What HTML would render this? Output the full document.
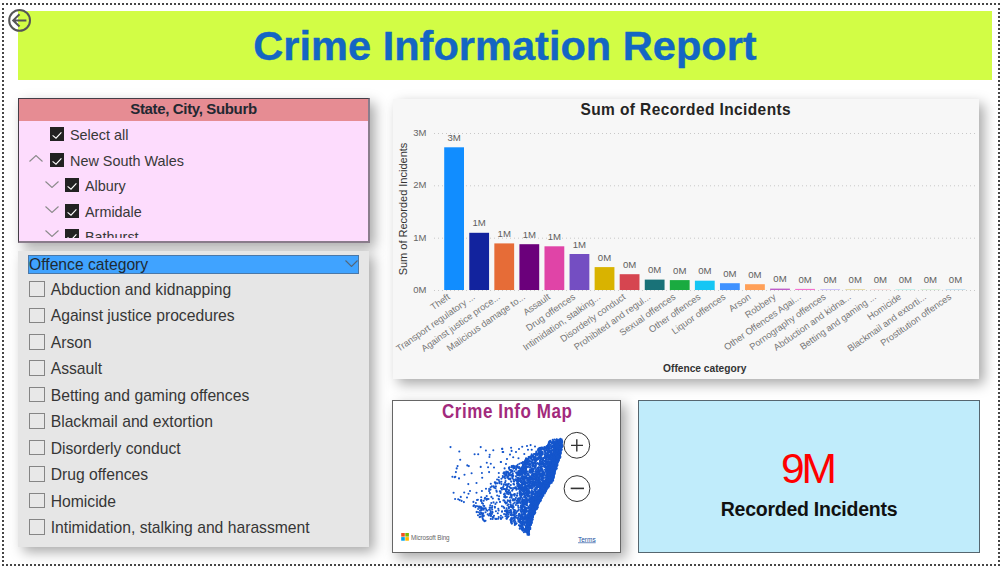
<!DOCTYPE html><html><head><meta charset="utf-8"><title>Crime Information Report</title><style>
*{box-sizing:border-box;margin:0;padding:0}
html,body{width:1003px;height:568px;overflow:hidden;background:#fff;font-family:"Liberation Sans",sans-serif}
.a{position:absolute}
.ov{position:absolute;left:0;top:0}
.dt{position:absolute;left:2px;width:998px;height:2px;background:repeating-linear-gradient(to right,#464646 0 2px,transparent 2px 4px)}
.dv{position:absolute;top:8px;width:2px;height:554px;background:repeating-linear-gradient(to bottom,#464646 0 2px,transparent 2px 4px)}
#banner{left:18px;top:11px;width:974px;height:69px;background:#d2fd45}
#title{left:0;top:0;width:974px;text-align:center;font-weight:bold;font-size:40px;letter-spacing:0;transform:scaleX(1.039);color:#1466c3;line-height:1;position:absolute;top:14.7px;-webkit-text-stroke:0.4px #1466c3}
#s1{left:18px;top:98px;width:352px;height:145px;background:#fddcfd;border:1px solid #433d46;border-right:2px solid #8a7d8c;border-bottom:2px solid #8a7d8c;box-shadow:5px 5px 12px rgba(0,0,0,.34)}
#s1h{left:0;top:0;width:349px;height:22px;background:#e68c93;text-align:center;font-weight:bold;font-size:15px;letter-spacing:-0.35px;color:#222831;line-height:20px}
.cb{position:absolute;width:14px;height:14px;background:#222;}
.cb svg{position:absolute;left:0;top:0}
.it{position:absolute;font-size:14.4px;color:#383838;line-height:1;white-space:nowrap}
#s2{left:18px;top:251px;width:351px;height:296px;background:#e6e6e6;box-shadow:5px 5px 12px rgba(0,0,0,.34)}
#s2h{left:10px;top:4px;width:331px;height:19px;background:#40a3ff;border:1px solid #4a78a8;font-size:15.7px;color:#1e2a33;line-height:17px;padding-left:0}
.ub{position:absolute;width:16px;height:15.5px;border:1.5px solid #858585;background:#e8e8e8}
.it2{position:absolute;font-size:15.7px;color:#363636;line-height:1;white-space:nowrap}
#bc{left:393px;top:99px;width:586px;height:280px;background:#f7f7f7;box-shadow:5px 5px 12px rgba(0,0,0,.34)}
#mp{left:392px;top:400px;width:229px;height:153px;background:#fff;border:1px solid #666;box-shadow:5px 5px 12px rgba(0,0,0,.34)}
#kp{left:638px;top:400px;width:342px;height:153px;background:#c0ecfb;border:1px solid #56666f}
.tk{font-size:9.5px;fill:#666}
.dl{font-size:9.6px;fill:#606060}
.xl{font-size:9.3px;fill:#757575}
.yt{font-size:11px;fill:#333}
.xt{font-size:10.2px;font-weight:bold;fill:#333}
.mt{font-size:17px;font-weight:bold;fill:#a22a7c;letter-spacing:0.55px}
.ct{font-size:15.5px;font-weight:bold;fill:#252423;letter-spacing:0.4px}
</style></head><body>
<div class="dt" style="top:3px"></div><div class="dt" style="top:564px"></div>
<div class="dv" style="left:2px"></div><div class="dv" style="left:998px"></div>
<div id="banner" class="a"><div id="title">Crime Information Report</div></div>
<svg class="a" style="left:6px;top:7px" width="28" height="28" viewBox="0 0 28 28"><circle cx="13.6" cy="13.4" r="10.4" fill="none" stroke="#555" stroke-width="2"/><path d="M20.4 13.4 H7.2 M13.5 7.3 L7.2 13.4 L13.5 19.5" fill="none" stroke="#555" stroke-width="2"/></svg>
<div id="s1" class="a"><div id="s1h" class="a">State, City, Suburb</div></div>
<div class="cb" style="left:50px;top:127px"><svg width="14" height="14" viewBox="0 0 14 14"><path d="M2.6 8.4 L6 11.2 L11.4 5.4" fill="none" stroke="#fff" stroke-width="1.15"/></svg></div>
<div class="it" style="left:70px;top:127.6px">Select all</div>
<svg class="a" style="left:29px;top:155px" width="14" height="7"><path d="M0.5 6.5 L7.0 0.5 L13.5 6.5" fill="none" stroke="#8a8a8a" stroke-width="1.1"/></svg>
<div class="cb" style="left:50px;top:153px"><svg width="14" height="14" viewBox="0 0 14 14"><path d="M2.6 8.4 L6 11.2 L11.4 5.4" fill="none" stroke="#fff" stroke-width="1.15"/></svg></div>
<div class="it" style="left:70px;top:153.6px">New South Wales</div>
<svg class="a" style="left:44.5px;top:180.5px" width="14" height="7"><path d="M0.5 0.5 L7.0 6.5 L13.5 0.5" fill="none" stroke="#8a8a8a" stroke-width="1.1"/></svg>
<div class="cb" style="left:65px;top:178px"><svg width="14" height="14" viewBox="0 0 14 14"><path d="M2.6 8.4 L6 11.2 L11.4 5.4" fill="none" stroke="#fff" stroke-width="1.15"/></svg></div>
<div class="it" style="left:85px;top:178.6px">Albury</div>
<svg class="a" style="left:44.5px;top:206px" width="14" height="7"><path d="M0.5 0.5 L7.0 6.5 L13.5 0.5" fill="none" stroke="#8a8a8a" stroke-width="1.1"/></svg>
<div class="cb" style="left:65px;top:204px"><svg width="14" height="14" viewBox="0 0 14 14"><path d="M2.6 8.4 L6 11.2 L11.4 5.4" fill="none" stroke="#fff" stroke-width="1.15"/></svg></div>
<div class="it" style="left:85px;top:204.6px">Armidale</div>
<div class="a" style="left:19px;top:229px;width:350px;height:8.5px;overflow:hidden"><svg class="a" style="left:25.5px;top:0.5px" width="14" height="7"><path d="M0.5 0.5 L7.0 6.5 L13.5 0.5" fill="none" stroke="#8a8a8a" stroke-width="1.1"/></svg><div class="cb" style="left:46px;top:0px"><svg width="14" height="14" viewBox="0 0 14 14"><path d="M2.6 8.4 L6 11.2 L11.4 5.4" fill="none" stroke="#fff" stroke-width="1.15"/></svg></div><div class="it" style="left:66px;top:0.6px">Bathurst</div></div>
<div id="s2" class="a"><div id="s2h" class="a">Offence category</div></div>
<svg class="a" style="left:345px;top:260px" width="13" height="7"><path d="M0.5 0.5 L6.5 6.5 L12.5 0.5" fill="none" stroke="#556677" stroke-width="1.1"/></svg>
<div class="ub" style="left:28.5px;top:281.10px"></div><div class="it2" style="left:50.7px;top:282.00px">Abduction and kidnapping</div>
<div class="ub" style="left:28.5px;top:307.55px"></div><div class="it2" style="left:50.7px;top:308.45px">Against justice procedures</div>
<div class="ub" style="left:28.5px;top:334.00px"></div><div class="it2" style="left:50.7px;top:334.90px">Arson</div>
<div class="ub" style="left:28.5px;top:360.45px"></div><div class="it2" style="left:50.7px;top:361.35px">Assault</div>
<div class="ub" style="left:28.5px;top:386.90px"></div><div class="it2" style="left:50.7px;top:387.80px">Betting and gaming offences</div>
<div class="ub" style="left:28.5px;top:413.35px"></div><div class="it2" style="left:50.7px;top:414.25px">Blackmail and extortion</div>
<div class="ub" style="left:28.5px;top:439.80px"></div><div class="it2" style="left:50.7px;top:440.70px">Disorderly conduct</div>
<div class="ub" style="left:28.5px;top:466.25px"></div><div class="it2" style="left:50.7px;top:467.15px">Drug offences</div>
<div class="ub" style="left:28.5px;top:492.70px"></div><div class="it2" style="left:50.7px;top:493.60px">Homicide</div>
<div class="ub" style="left:28.5px;top:519.15px"></div><div class="it2" style="left:50.7px;top:520.05px">Intimidation, stalking and harassment</div>
<div id="bc" class="a"></div>
<svg class="ov" width="1003" height="568" viewBox="0 0 1003 568">
<line x1="434" y1="133.5" x2="976" y2="133.5" stroke="#c8c8c8" stroke-width="1" stroke-dasharray="1 3"/>
<text x="426.5" y="135.8" text-anchor="end" class="tk">3M</text>
<line x1="434" y1="185.8" x2="976" y2="185.8" stroke="#c8c8c8" stroke-width="1" stroke-dasharray="1 3"/>
<text x="426.5" y="188.1" text-anchor="end" class="tk">2M</text>
<line x1="434" y1="238.2" x2="976" y2="238.2" stroke="#c8c8c8" stroke-width="1" stroke-dasharray="1 3"/>
<text x="426.5" y="240.5" text-anchor="end" class="tk">1M</text>
<line x1="434" y1="290.5" x2="976" y2="290.5" stroke="#c8c8c8" stroke-width="1" stroke-dasharray="1 3"/>
<text x="426.5" y="292.8" text-anchor="end" class="tk">0M</text>
<rect x="444.20" y="147.30" width="19.8" height="142.70" fill="#118DFF"/>
<text x="454.10" y="140.90" text-anchor="middle" class="dl">3M</text>
<rect x="469.27" y="232.80" width="19.8" height="57.20" fill="#12239E"/>
<text x="479.17" y="226.40" text-anchor="middle" class="dl">1M</text>
<rect x="494.34" y="243.40" width="19.8" height="46.60" fill="#E66C37"/>
<text x="504.24" y="237.00" text-anchor="middle" class="dl">1M</text>
<rect x="519.41" y="244.20" width="19.8" height="45.80" fill="#6B007B"/>
<text x="529.31" y="237.80" text-anchor="middle" class="dl">1M</text>
<rect x="544.48" y="246.30" width="19.8" height="43.70" fill="#E044A7"/>
<text x="554.38" y="239.90" text-anchor="middle" class="dl">1M</text>
<rect x="569.55" y="254.00" width="19.8" height="36.00" fill="#744EC2"/>
<text x="579.45" y="247.60" text-anchor="middle" class="dl">1M</text>
<rect x="594.62" y="267.10" width="19.8" height="22.90" fill="#D9B300"/>
<text x="604.52" y="260.70" text-anchor="middle" class="dl">0M</text>
<rect x="619.69" y="274.20" width="19.8" height="15.80" fill="#D64550"/>
<text x="629.59" y="267.80" text-anchor="middle" class="dl">0M</text>
<rect x="644.76" y="279.60" width="19.8" height="10.40" fill="#197278"/>
<text x="654.66" y="273.20" text-anchor="middle" class="dl">0M</text>
<rect x="669.83" y="280.10" width="19.8" height="9.90" fill="#1AAB40"/>
<text x="679.73" y="273.70" text-anchor="middle" class="dl">0M</text>
<rect x="694.90" y="280.70" width="19.8" height="9.30" fill="#15C6F4"/>
<text x="704.80" y="274.30" text-anchor="middle" class="dl">0M</text>
<rect x="719.97" y="283.20" width="19.8" height="6.80" fill="#4092FF"/>
<text x="729.87" y="276.80" text-anchor="middle" class="dl">0M</text>
<rect x="745.04" y="284.20" width="19.8" height="5.80" fill="#FFA058"/>
<text x="754.94" y="277.80" text-anchor="middle" class="dl">0M</text>
<rect x="770.11" y="288.60" width="19.8" height="1.40" fill="#BE5DC9"/>
<text x="780.01" y="282.20" text-anchor="middle" class="dl">0M</text>
<rect x="795.18" y="288.90" width="19.8" height="1.10" fill="#F472D0"/>
<text x="805.08" y="282.50" text-anchor="middle" class="dl">0M</text>
<rect x="820.25" y="289.40" width="19.8" height="0.60" fill="#B5A1FF"/>
<text x="830.15" y="283.00" text-anchor="middle" class="dl">0M</text>
<rect x="845.32" y="289.70" width="19.8" height="0.30" fill="#C4A200"/>
<text x="855.22" y="283.30" text-anchor="middle" class="dl">0M</text>
<rect x="870.39" y="289.80" width="19.8" height="0.20" fill="#FF8080"/>
<text x="880.29" y="283.40" text-anchor="middle" class="dl">0M</text>
<rect x="895.46" y="289.80" width="19.8" height="0.20" fill="#00DBBC"/>
<text x="905.36" y="283.40" text-anchor="middle" class="dl">0M</text>
<rect x="920.53" y="289.80" width="19.8" height="0.20" fill="#5BD667"/>
<text x="930.43" y="283.40" text-anchor="middle" class="dl">0M</text>
<rect x="945.60" y="289.80" width="19.8" height="0.20" fill="#0091D5"/>
<text x="955.50" y="283.40" text-anchor="middle" class="dl">0M</text>
<text transform="translate(450.60,298.30) rotate(-35)" text-anchor="end" class="xl">Theft</text>
<text transform="translate(475.67,298.30) rotate(-35)" text-anchor="end" class="xl">Transport regulatory ...</text>
<text transform="translate(500.74,298.30) rotate(-35)" text-anchor="end" class="xl">Against justice proce...</text>
<text transform="translate(525.81,298.30) rotate(-35)" text-anchor="end" class="xl">Malicious damage to...</text>
<text transform="translate(550.88,298.30) rotate(-35)" text-anchor="end" class="xl">Assault</text>
<text transform="translate(575.95,298.30) rotate(-35)" text-anchor="end" class="xl">Drug offences</text>
<text transform="translate(601.02,298.30) rotate(-35)" text-anchor="end" class="xl">Intimidation, stalking...</text>
<text transform="translate(626.09,298.30) rotate(-35)" text-anchor="end" class="xl">Disorderly conduct</text>
<text transform="translate(651.16,298.30) rotate(-35)" text-anchor="end" class="xl">Prohibited and regul...</text>
<text transform="translate(676.23,298.30) rotate(-35)" text-anchor="end" class="xl">Sexual offences</text>
<text transform="translate(701.30,298.30) rotate(-35)" text-anchor="end" class="xl">Other offences</text>
<text transform="translate(726.37,298.30) rotate(-35)" text-anchor="end" class="xl">Liquor offences</text>
<text transform="translate(751.44,298.30) rotate(-35)" text-anchor="end" class="xl">Arson</text>
<text transform="translate(776.51,298.30) rotate(-35)" text-anchor="end" class="xl">Robbery</text>
<text transform="translate(801.58,298.30) rotate(-35)" text-anchor="end" class="xl">Other Offences Agai...</text>
<text transform="translate(826.65,298.30) rotate(-35)" text-anchor="end" class="xl">Pornography offences</text>
<text transform="translate(851.72,298.30) rotate(-35)" text-anchor="end" class="xl">Abduction and kidna...</text>
<text transform="translate(876.79,298.30) rotate(-35)" text-anchor="end" class="xl">Betting and gaming ...</text>
<text transform="translate(901.86,298.30) rotate(-35)" text-anchor="end" class="xl">Homicide</text>
<text transform="translate(926.93,298.30) rotate(-35)" text-anchor="end" class="xl">Blackmail and extorti...</text>
<text transform="translate(952.00,298.30) rotate(-35)" text-anchor="end" class="xl">Prostitution offences</text>
<text transform="translate(407,209) rotate(-90)" text-anchor="middle" class="yt">Sum of Recorded Incidents</text>
<text x="704.7" y="371.7" text-anchor="middle" class="xt">Offence category</text>
<text transform="translate(685.8,115.2) scale(1,1.115)" text-anchor="middle" class="ct">Sum of Recorded Incidents</text>
</svg>
<div id="mp" class="a"></div>
<svg class="ov" width="1003" height="568" viewBox="0 0 1003 568"><g fill="#1556cc"><polygon points="562.3,438.2 562.8,445.0 561.2,455.1 557.5,465.7 553.7,480.0 546.3,490.6 541.0,501.1 535.7,511.7 532.6,520.1 530.5,527.5 529.4,534.9 528.4,535.4 525.0,531.0 525.5,521.0 528.5,511.0 533.5,500.0 538.5,490.0 545.0,479.0 549.0,466.0 552.0,455.0 553.5,446.0 553.0,441.0"/><circle cx="450.5" cy="447.1" r="1.05"/><circle cx="459.3" cy="451.5" r="1.05"/><circle cx="480.7" cy="447.1" r="1.05"/><circle cx="485.9" cy="450.5" r="1.05"/><circle cx="493.3" cy="450.3" r="1.05"/><circle cx="502.3" cy="448.9" r="1.05"/><circle cx="503.2" cy="452.0" r="1.05"/><circle cx="474.6" cy="454.3" r="1.05"/><circle cx="478.2" cy="454.3" r="1.05"/><circle cx="489.7" cy="454.7" r="1.05"/><circle cx="489.4" cy="457.0" r="1.05"/><circle cx="460.2" cy="459.7" r="1.05"/><circle cx="486.8" cy="462.7" r="1.05"/><circle cx="490.8" cy="463.8" r="1.05"/><circle cx="500.9" cy="462.0" r="1.05"/><circle cx="457.6" cy="466.1" r="1.05"/><circle cx="456.7" cy="468.4" r="1.05"/><circle cx="467.3" cy="465.4" r="1.05"/><circle cx="468.8" cy="466.1" r="1.05"/><circle cx="480.7" cy="466.9" r="1.05"/><circle cx="488.1" cy="467.3" r="1.05"/><circle cx="494.0" cy="467.5" r="1.05"/><circle cx="504.6" cy="468.4" r="1.05"/><circle cx="455.9" cy="472.1" r="1.05"/><circle cx="489.1" cy="472.1" r="1.05"/><circle cx="481.9" cy="473.0" r="1.05"/><circle cx="471.6" cy="473.2" r="1.05"/><circle cx="464.5" cy="474.7" r="1.05"/><circle cx="498.8" cy="473.0" r="1.05"/><circle cx="503.4" cy="473.2" r="1.05"/><circle cx="452.4" cy="476.7" r="1.05"/><circle cx="455.3" cy="476.7" r="1.05"/><circle cx="454.7" cy="477.2" r="1.05"/><circle cx="459.0" cy="478.4" r="1.05"/><circle cx="482.2" cy="477.8" r="1.05"/><circle cx="498.8" cy="477.2" r="1.05"/><circle cx="501.4" cy="478.7" r="1.05"/><circle cx="502.8" cy="476.1" r="1.05"/><circle cx="497.1" cy="479.5" r="1.05"/><circle cx="494.8" cy="482.2" r="1.05"/><circle cx="497.5" cy="483.3" r="1.05"/><circle cx="490.8" cy="483.8" r="1.05"/><circle cx="476.5" cy="483.0" r="1.05"/><circle cx="468.3" cy="484.1" r="1.05"/><circle cx="493.7" cy="486.4" r="1.05"/><circle cx="486.0" cy="488.7" r="1.05"/><circle cx="489.1" cy="489.0" r="1.05"/><circle cx="481.9" cy="491.0" r="1.05"/><circle cx="453.6" cy="492.7" r="1.05"/><circle cx="464.2" cy="492.5" r="1.05"/><circle cx="470.0" cy="491.0" r="1.05"/><circle cx="468.5" cy="493.8" r="1.05"/><circle cx="476.5" cy="492.7" r="1.05"/><circle cx="467.0" cy="497.5" r="1.05"/><circle cx="460.8" cy="496.9" r="1.05"/><circle cx="455.1" cy="499.0" r="1.05"/><circle cx="458.2" cy="499.3" r="1.05"/><circle cx="459.7" cy="500.1" r="1.05"/><circle cx="461.6" cy="500.9" r="1.05"/><circle cx="463.9" cy="502.1" r="1.05"/><circle cx="473.4" cy="501.9" r="1.05"/><circle cx="475.9" cy="503.0" r="1.05"/><circle cx="481.4" cy="501.3" r="1.05"/><circle cx="483.7" cy="500.7" r="1.05"/><circle cx="488.5" cy="499.0" r="1.05"/><circle cx="491.4" cy="496.9" r="1.05"/><circle cx="502.1" cy="448.8" r="1.05"/><circle cx="502.6" cy="452.0" r="1.05"/><circle cx="511.1" cy="447.7" r="1.05"/><circle cx="511.6" cy="450.9" r="1.05"/><circle cx="510.0" cy="454.6" r="1.05"/><circle cx="513.2" cy="457.2" r="1.05"/><circle cx="522.2" cy="446.7" r="1.05"/><circle cx="530.6" cy="445.1" r="1.05"/><circle cx="528.0" cy="449.8" r="1.05"/><circle cx="531.7" cy="449.8" r="1.05"/><circle cx="518.5" cy="458.3" r="1.05"/><circle cx="524.3" cy="454.0" r="1.05"/><circle cx="500.8" cy="462.0" r="1.05"/><circle cx="516.0" cy="452.0" r="1.05"/><circle cx="519.0" cy="449.0" r="1.05"/><circle cx="507.0" cy="459.0" r="1.05"/><circle cx="506.0" cy="464.0" r="1.05"/><circle cx="527.0" cy="446.0" r="1.05"/><circle cx="535.0" cy="446.5" r="1.05"/><circle cx="514.5" cy="514.4" r="1.05"/><circle cx="552.8" cy="454.1" r="1.05"/><circle cx="524.5" cy="504.2" r="1.05"/><circle cx="526.1" cy="458.6" r="1.05"/><circle cx="529.3" cy="518.6" r="1.05"/><circle cx="552.0" cy="447.6" r="1.05"/><circle cx="494.8" cy="506.8" r="1.05"/><circle cx="557.2" cy="461.7" r="1.05"/><circle cx="522.8" cy="494.2" r="1.05"/><circle cx="524.5" cy="522.2" r="1.05"/><circle cx="522.4" cy="479.0" r="1.05"/><circle cx="529.0" cy="530.8" r="1.05"/><circle cx="550.1" cy="476.4" r="1.05"/><circle cx="532.8" cy="492.4" r="1.05"/><circle cx="493.4" cy="517.5" r="1.05"/><circle cx="508.9" cy="474.9" r="1.05"/><circle cx="477.9" cy="499.8" r="1.05"/><circle cx="526.8" cy="462.0" r="1.05"/><circle cx="540.3" cy="468.2" r="1.05"/><circle cx="542.9" cy="482.2" r="1.05"/><circle cx="512.8" cy="473.2" r="1.05"/><circle cx="534.9" cy="479.2" r="1.05"/><circle cx="557.2" cy="460.9" r="1.05"/><circle cx="540.9" cy="475.3" r="1.05"/><circle cx="522.7" cy="462.2" r="1.05"/><circle cx="520.6" cy="515.6" r="1.05"/><circle cx="519.8" cy="471.3" r="1.05"/><circle cx="526.6" cy="501.8" r="1.05"/><circle cx="530.7" cy="504.8" r="1.05"/><circle cx="528.6" cy="514.7" r="1.05"/><circle cx="534.8" cy="509.5" r="1.05"/><circle cx="540.7" cy="458.1" r="1.05"/><circle cx="548.0" cy="466.7" r="1.05"/><circle cx="484.8" cy="508.3" r="1.05"/><circle cx="532.7" cy="519.5" r="1.05"/><circle cx="543.5" cy="491.5" r="1.05"/><circle cx="500.9" cy="515.8" r="1.05"/><circle cx="542.2" cy="461.9" r="1.05"/><circle cx="513.1" cy="514.3" r="1.05"/><circle cx="491.9" cy="486.4" r="1.05"/><circle cx="540.7" cy="456.5" r="1.05"/><circle cx="536.3" cy="460.2" r="1.05"/><circle cx="537.1" cy="492.6" r="1.05"/><circle cx="524.5" cy="511.3" r="1.05"/><circle cx="518.4" cy="475.1" r="1.05"/><circle cx="530.5" cy="483.3" r="1.05"/><circle cx="518.8" cy="520.4" r="1.05"/><circle cx="542.8" cy="475.2" r="1.05"/><circle cx="525.9" cy="460.2" r="1.05"/><circle cx="520.0" cy="471.0" r="1.05"/><circle cx="533.5" cy="457.5" r="1.05"/><circle cx="482.5" cy="517.0" r="1.05"/><circle cx="539.5" cy="478.5" r="1.05"/><circle cx="514.8" cy="525.0" r="1.05"/><circle cx="548.4" cy="470.0" r="1.05"/><circle cx="514.2" cy="520.4" r="1.05"/><circle cx="517.9" cy="499.5" r="1.05"/><circle cx="540.0" cy="455.5" r="1.05"/><circle cx="507.1" cy="493.8" r="1.05"/><circle cx="540.1" cy="488.0" r="1.05"/><circle cx="524.2" cy="489.4" r="1.05"/><circle cx="491.0" cy="507.8" r="1.05"/><circle cx="537.6" cy="482.6" r="1.05"/><circle cx="521.2" cy="489.1" r="1.05"/><circle cx="548.4" cy="487.6" r="1.05"/><circle cx="548.1" cy="479.2" r="1.05"/><circle cx="541.3" cy="480.1" r="1.05"/><circle cx="551.2" cy="446.5" r="1.05"/><circle cx="528.7" cy="523.5" r="1.05"/><circle cx="499.1" cy="496.2" r="1.05"/><circle cx="527.5" cy="480.6" r="1.05"/><circle cx="518.3" cy="479.0" r="1.05"/><circle cx="540.9" cy="470.1" r="1.05"/><circle cx="521.8" cy="516.9" r="1.05"/><circle cx="520.2" cy="493.4" r="1.05"/><circle cx="522.5" cy="484.1" r="1.05"/><circle cx="553.6" cy="474.1" r="1.05"/><circle cx="531.9" cy="512.6" r="1.05"/><circle cx="492.2" cy="511.8" r="1.05"/><circle cx="537.3" cy="475.7" r="1.05"/><circle cx="510.6" cy="470.6" r="1.05"/><circle cx="525.8" cy="468.3" r="1.05"/><circle cx="517.5" cy="493.4" r="1.05"/><circle cx="530.5" cy="483.3" r="1.05"/><circle cx="535.0" cy="507.1" r="1.05"/><circle cx="506.8" cy="472.3" r="1.05"/><circle cx="535.6" cy="465.9" r="1.05"/><circle cx="493.2" cy="516.9" r="1.05"/><circle cx="523.3" cy="501.4" r="1.05"/><circle cx="527.0" cy="511.3" r="1.05"/><circle cx="524.7" cy="480.3" r="1.05"/><circle cx="551.0" cy="450.7" r="1.05"/><circle cx="527.7" cy="528.6" r="1.05"/><circle cx="517.3" cy="475.3" r="1.05"/><circle cx="508.6" cy="516.2" r="1.05"/><circle cx="540.5" cy="501.1" r="1.05"/><circle cx="522.2" cy="524.5" r="1.05"/><circle cx="557.0" cy="450.3" r="1.05"/><circle cx="544.2" cy="463.8" r="1.05"/><circle cx="541.6" cy="474.5" r="1.05"/><circle cx="547.4" cy="468.4" r="1.05"/><circle cx="494.2" cy="487.6" r="1.05"/><circle cx="526.4" cy="503.2" r="1.05"/><circle cx="524.8" cy="471.7" r="1.05"/><circle cx="514.7" cy="502.6" r="1.05"/><circle cx="517.2" cy="486.0" r="1.05"/><circle cx="536.5" cy="458.5" r="1.05"/><circle cx="509.5" cy="474.0" r="1.05"/><circle cx="527.6" cy="519.0" r="1.05"/><circle cx="525.3" cy="510.0" r="1.05"/><circle cx="542.6" cy="453.8" r="1.05"/><circle cx="541.0" cy="473.5" r="1.05"/><circle cx="541.3" cy="466.7" r="1.05"/><circle cx="479.4" cy="506.5" r="1.05"/><circle cx="508.7" cy="478.7" r="1.05"/><circle cx="535.7" cy="508.6" r="1.05"/><circle cx="518.2" cy="498.5" r="1.05"/><circle cx="504.3" cy="473.9" r="1.05"/><circle cx="533.4" cy="464.0" r="1.05"/><circle cx="503.3" cy="506.7" r="1.05"/><circle cx="530.9" cy="499.6" r="1.05"/><circle cx="521.1" cy="527.0" r="1.05"/><circle cx="523.1" cy="518.2" r="1.05"/><circle cx="551.6" cy="461.7" r="1.05"/><circle cx="522.3" cy="523.8" r="1.05"/><circle cx="543.6" cy="481.5" r="1.05"/><circle cx="560.2" cy="445.6" r="1.05"/><circle cx="536.4" cy="500.8" r="1.05"/><circle cx="528.8" cy="482.8" r="1.05"/><circle cx="547.7" cy="451.4" r="1.05"/><circle cx="504.1" cy="514.1" r="1.05"/><circle cx="543.3" cy="482.7" r="1.05"/><circle cx="531.8" cy="478.7" r="1.05"/><circle cx="529.2" cy="479.4" r="1.05"/><circle cx="529.5" cy="491.6" r="1.05"/><circle cx="523.9" cy="510.3" r="1.05"/><circle cx="526.7" cy="525.0" r="1.05"/><circle cx="497.2" cy="495.5" r="1.05"/><circle cx="536.5" cy="484.9" r="1.05"/><circle cx="533.0" cy="477.0" r="1.05"/><circle cx="516.6" cy="523.2" r="1.05"/><circle cx="529.6" cy="487.3" r="1.05"/><circle cx="525.9" cy="526.6" r="1.05"/><circle cx="545.4" cy="462.6" r="1.05"/><circle cx="537.8" cy="458.8" r="1.05"/><circle cx="551.8" cy="465.3" r="1.05"/><circle cx="526.6" cy="510.8" r="1.05"/><circle cx="540.8" cy="500.2" r="1.05"/><circle cx="553.1" cy="459.0" r="1.05"/><circle cx="547.3" cy="461.3" r="1.05"/><circle cx="525.4" cy="496.7" r="1.05"/><circle cx="533.7" cy="510.4" r="1.05"/><circle cx="519.9" cy="521.4" r="1.05"/><circle cx="557.8" cy="443.5" r="1.05"/><circle cx="548.7" cy="473.1" r="1.05"/><circle cx="519.6" cy="487.4" r="1.05"/><circle cx="506.7" cy="474.6" r="1.05"/><circle cx="515.1" cy="479.8" r="1.05"/><circle cx="495.4" cy="504.0" r="1.05"/><circle cx="529.2" cy="460.4" r="1.05"/><circle cx="556.2" cy="463.2" r="1.05"/><circle cx="547.5" cy="480.6" r="1.05"/><circle cx="519.2" cy="521.3" r="1.05"/><circle cx="524.4" cy="472.6" r="1.05"/><circle cx="524.5" cy="514.3" r="1.05"/><circle cx="489.7" cy="513.7" r="1.05"/><circle cx="529.1" cy="513.4" r="1.05"/><circle cx="551.9" cy="461.6" r="1.05"/><circle cx="519.0" cy="478.4" r="1.05"/><circle cx="537.2" cy="487.5" r="1.05"/><circle cx="532.5" cy="496.8" r="1.05"/><circle cx="512.9" cy="499.7" r="1.05"/><circle cx="539.9" cy="485.0" r="1.05"/><circle cx="520.0" cy="485.3" r="1.05"/><circle cx="532.2" cy="472.6" r="1.05"/><circle cx="533.3" cy="508.8" r="1.05"/><circle cx="527.7" cy="521.9" r="1.05"/><circle cx="517.2" cy="495.6" r="1.05"/><circle cx="524.5" cy="481.3" r="1.05"/><circle cx="525.9" cy="471.0" r="1.05"/><circle cx="540.5" cy="449.3" r="1.05"/><circle cx="540.8" cy="492.4" r="1.05"/><circle cx="526.8" cy="517.3" r="1.05"/><circle cx="534.8" cy="508.6" r="1.05"/><circle cx="480.8" cy="516.8" r="1.05"/><circle cx="526.3" cy="508.4" r="1.05"/><circle cx="520.6" cy="489.3" r="1.05"/><circle cx="520.9" cy="468.4" r="1.05"/><circle cx="540.1" cy="489.4" r="1.05"/><circle cx="527.9" cy="474.8" r="1.05"/><circle cx="506.8" cy="511.8" r="1.05"/><circle cx="553.3" cy="441.6" r="1.05"/><circle cx="481.2" cy="500.8" r="1.05"/><circle cx="532.7" cy="478.6" r="1.05"/><circle cx="537.1" cy="506.5" r="1.05"/><circle cx="533.5" cy="462.8" r="1.05"/><circle cx="539.6" cy="448.5" r="1.05"/><circle cx="549.0" cy="445.0" r="1.05"/><circle cx="558.1" cy="455.9" r="1.05"/><circle cx="498.3" cy="518.7" r="1.05"/><circle cx="506.8" cy="518.7" r="1.05"/><circle cx="515.5" cy="523.8" r="1.05"/><circle cx="522.1" cy="518.0" r="1.05"/><circle cx="542.8" cy="474.4" r="1.05"/><circle cx="507.5" cy="505.2" r="1.05"/><circle cx="529.5" cy="510.5" r="1.05"/><circle cx="507.9" cy="501.0" r="1.05"/><circle cx="526.1" cy="487.9" r="1.05"/><circle cx="509.1" cy="510.7" r="1.05"/><circle cx="540.1" cy="490.4" r="1.05"/><circle cx="558.5" cy="453.9" r="1.05"/><circle cx="546.2" cy="447.9" r="1.05"/><circle cx="549.3" cy="471.1" r="1.05"/><circle cx="518.7" cy="484.4" r="1.05"/><circle cx="546.4" cy="471.7" r="1.05"/><circle cx="540.9" cy="476.0" r="1.05"/><circle cx="535.2" cy="457.4" r="1.05"/><circle cx="519.8" cy="528.2" r="1.05"/><circle cx="544.9" cy="465.7" r="1.05"/><circle cx="544.3" cy="466.8" r="1.05"/><circle cx="528.2" cy="485.8" r="1.05"/><circle cx="547.8" cy="474.4" r="1.05"/><circle cx="526.6" cy="475.5" r="1.05"/><circle cx="520.5" cy="523.0" r="1.05"/><circle cx="535.3" cy="463.1" r="1.05"/><circle cx="478.0" cy="515.2" r="1.05"/><circle cx="527.6" cy="527.1" r="1.05"/><circle cx="524.8" cy="477.3" r="1.05"/><circle cx="491.3" cy="503.0" r="1.05"/><circle cx="548.2" cy="470.8" r="1.05"/><circle cx="518.9" cy="525.2" r="1.05"/><circle cx="519.1" cy="498.8" r="1.05"/><circle cx="528.3" cy="493.5" r="1.05"/><circle cx="549.2" cy="457.5" r="1.05"/><circle cx="540.7" cy="451.0" r="1.05"/><circle cx="521.5" cy="506.8" r="1.05"/><circle cx="533.3" cy="464.0" r="1.05"/><circle cx="532.6" cy="498.5" r="1.05"/><circle cx="517.1" cy="483.4" r="1.05"/><circle cx="550.5" cy="472.0" r="1.05"/><circle cx="536.9" cy="489.1" r="1.05"/><circle cx="547.9" cy="484.8" r="1.05"/><circle cx="510.9" cy="488.2" r="1.05"/><circle cx="516.1" cy="468.2" r="1.05"/><circle cx="506.9" cy="484.3" r="1.05"/><circle cx="507.8" cy="500.3" r="1.05"/><circle cx="547.7" cy="479.2" r="1.05"/><circle cx="516.4" cy="489.8" r="1.05"/><circle cx="518.8" cy="509.5" r="1.05"/><circle cx="542.6" cy="472.4" r="1.05"/><circle cx="507.8" cy="517.3" r="1.05"/><circle cx="555.5" cy="463.7" r="1.05"/><circle cx="483.7" cy="509.7" r="1.05"/><circle cx="525.4" cy="467.4" r="1.05"/><circle cx="534.4" cy="499.9" r="1.05"/><circle cx="523.1" cy="469.8" r="1.05"/><circle cx="517.5" cy="482.9" r="1.05"/><circle cx="536.1" cy="495.4" r="1.05"/><circle cx="541.2" cy="449.4" r="1.05"/><circle cx="534.6" cy="513.6" r="1.05"/><circle cx="550.0" cy="467.2" r="1.05"/><circle cx="533.0" cy="508.0" r="1.05"/><circle cx="510.4" cy="506.5" r="1.05"/><circle cx="537.3" cy="506.1" r="1.05"/><circle cx="520.0" cy="498.4" r="1.05"/><circle cx="531.4" cy="507.3" r="1.05"/><circle cx="526.4" cy="526.8" r="1.05"/><circle cx="525.5" cy="483.5" r="1.05"/><circle cx="526.2" cy="531.1" r="1.05"/><circle cx="535.9" cy="508.7" r="1.05"/><circle cx="490.4" cy="514.4" r="1.05"/><circle cx="543.1" cy="449.3" r="1.05"/><circle cx="527.7" cy="490.7" r="1.05"/><circle cx="505.4" cy="475.1" r="1.05"/><circle cx="554.7" cy="473.7" r="1.05"/><circle cx="519.6" cy="491.9" r="1.05"/><circle cx="524.8" cy="494.1" r="1.05"/><circle cx="508.7" cy="507.0" r="1.05"/><circle cx="505.2" cy="478.4" r="1.05"/><circle cx="526.6" cy="504.9" r="1.05"/><circle cx="497.8" cy="513.2" r="1.05"/><circle cx="533.9" cy="457.5" r="1.05"/><circle cx="528.7" cy="512.9" r="1.05"/><circle cx="511.5" cy="494.8" r="1.05"/><circle cx="542.0" cy="497.5" r="1.05"/><circle cx="544.0" cy="489.9" r="1.05"/><circle cx="521.7" cy="514.4" r="1.05"/><circle cx="552.4" cy="450.1" r="1.05"/><circle cx="551.7" cy="481.4" r="1.05"/><circle cx="537.2" cy="459.6" r="1.05"/><circle cx="543.2" cy="482.2" r="1.05"/><circle cx="522.2" cy="517.1" r="1.05"/><circle cx="538.2" cy="484.9" r="1.05"/><circle cx="539.0" cy="453.1" r="1.05"/><circle cx="521.1" cy="521.5" r="1.05"/><circle cx="522.7" cy="506.8" r="1.05"/><circle cx="531.9" cy="469.6" r="1.05"/><circle cx="521.3" cy="508.4" r="1.05"/><circle cx="528.2" cy="496.2" r="1.05"/><circle cx="533.4" cy="485.6" r="1.05"/><circle cx="522.9" cy="487.3" r="1.05"/><circle cx="554.5" cy="470.8" r="1.05"/><circle cx="538.9" cy="500.4" r="1.05"/><circle cx="524.4" cy="518.8" r="1.05"/><circle cx="514.8" cy="494.1" r="1.05"/><circle cx="548.8" cy="443.4" r="1.05"/><circle cx="546.6" cy="450.5" r="1.05"/><circle cx="532.6" cy="483.2" r="1.05"/><circle cx="554.0" cy="451.0" r="1.05"/><circle cx="492.7" cy="517.3" r="1.05"/><circle cx="551.2" cy="455.4" r="1.05"/><circle cx="530.2" cy="461.6" r="1.05"/><circle cx="523.9" cy="479.9" r="1.05"/><circle cx="544.5" cy="472.6" r="1.05"/><circle cx="508.1" cy="476.3" r="1.05"/><circle cx="533.3" cy="512.7" r="1.05"/><circle cx="507.5" cy="485.9" r="1.05"/><circle cx="540.0" cy="482.6" r="1.05"/><circle cx="512.1" cy="490.8" r="1.05"/><circle cx="551.7" cy="450.8" r="1.05"/><circle cx="505.6" cy="481.0" r="1.05"/><circle cx="530.3" cy="482.7" r="1.05"/><circle cx="543.3" cy="458.7" r="1.05"/><circle cx="527.2" cy="480.1" r="1.05"/><circle cx="542.8" cy="477.7" r="1.05"/><circle cx="527.3" cy="515.1" r="1.05"/><circle cx="505.4" cy="510.6" r="1.05"/><circle cx="518.4" cy="483.3" r="1.05"/><circle cx="520.3" cy="480.2" r="1.05"/><circle cx="534.5" cy="501.2" r="1.05"/><circle cx="534.4" cy="459.2" r="1.05"/><circle cx="528.9" cy="534.8" r="1.05"/><circle cx="528.5" cy="506.8" r="1.05"/><circle cx="551.8" cy="452.9" r="1.05"/><circle cx="543.6" cy="449.4" r="1.05"/><circle cx="542.8" cy="459.2" r="1.05"/><circle cx="509.6" cy="467.2" r="1.05"/><circle cx="549.0" cy="478.9" r="1.05"/><circle cx="506.6" cy="514.4" r="1.05"/><circle cx="514.4" cy="517.5" r="1.05"/><circle cx="523.9" cy="476.7" r="1.05"/><circle cx="536.4" cy="479.1" r="1.05"/><circle cx="483.1" cy="508.3" r="1.05"/><circle cx="518.1" cy="488.9" r="1.05"/><circle cx="552.4" cy="459.0" r="1.05"/><circle cx="533.5" cy="501.0" r="1.05"/><circle cx="509.5" cy="469.7" r="1.05"/><circle cx="541.1" cy="483.4" r="1.05"/><circle cx="523.0" cy="505.4" r="1.05"/><circle cx="529.9" cy="518.9" r="1.05"/><circle cx="532.8" cy="503.1" r="1.05"/><circle cx="528.6" cy="495.6" r="1.05"/><circle cx="529.5" cy="513.5" r="1.05"/><circle cx="544.7" cy="457.9" r="1.05"/><circle cx="549.1" cy="481.5" r="1.05"/><circle cx="541.4" cy="490.5" r="1.05"/><circle cx="552.3" cy="442.3" r="1.05"/><circle cx="488.9" cy="515.5" r="1.05"/><circle cx="532.1" cy="497.9" r="1.05"/><circle cx="555.3" cy="454.8" r="1.05"/><circle cx="524.2" cy="463.5" r="1.05"/><circle cx="532.0" cy="478.2" r="1.05"/><circle cx="523.4" cy="530.3" r="1.05"/><circle cx="541.2" cy="454.8" r="1.05"/><circle cx="522.9" cy="464.8" r="1.05"/><circle cx="518.7" cy="474.4" r="1.05"/><circle cx="518.4" cy="481.3" r="1.05"/><circle cx="536.8" cy="508.9" r="1.05"/><circle cx="547.4" cy="483.6" r="1.05"/><circle cx="501.4" cy="481.8" r="1.05"/><circle cx="511.8" cy="471.1" r="1.05"/><circle cx="545.4" cy="483.7" r="1.05"/><circle cx="538.2" cy="501.5" r="1.05"/><circle cx="546.6" cy="469.5" r="1.05"/><circle cx="524.2" cy="472.4" r="1.05"/><circle cx="541.6" cy="451.4" r="1.05"/><circle cx="482.4" cy="515.7" r="1.05"/><circle cx="544.8" cy="492.7" r="1.05"/><circle cx="548.9" cy="466.2" r="1.05"/><circle cx="545.4" cy="491.3" r="1.05"/><circle cx="510.3" cy="472.7" r="1.05"/><circle cx="534.8" cy="512.0" r="1.05"/><circle cx="526.6" cy="498.8" r="1.05"/><circle cx="538.6" cy="471.6" r="1.05"/><circle cx="534.3" cy="489.6" r="1.05"/><circle cx="535.2" cy="465.7" r="1.05"/><circle cx="548.6" cy="464.6" r="1.05"/><circle cx="525.9" cy="527.7" r="1.05"/><circle cx="553.8" cy="443.5" r="1.05"/><circle cx="536.9" cy="471.5" r="1.05"/><circle cx="560.8" cy="449.3" r="1.05"/><circle cx="549.5" cy="452.1" r="1.05"/><circle cx="531.8" cy="492.6" r="1.05"/><circle cx="522.4" cy="472.9" r="1.05"/><circle cx="538.5" cy="485.0" r="1.05"/><circle cx="558.8" cy="452.9" r="1.05"/><circle cx="524.7" cy="500.5" r="1.05"/><circle cx="549.5" cy="463.1" r="1.05"/><circle cx="531.1" cy="456.1" r="1.05"/><circle cx="533.3" cy="497.0" r="1.05"/><circle cx="546.7" cy="487.7" r="1.05"/><circle cx="532.7" cy="469.6" r="1.05"/><circle cx="533.5" cy="465.8" r="1.05"/><circle cx="555.5" cy="464.4" r="1.05"/><circle cx="557.3" cy="444.4" r="1.05"/><circle cx="532.6" cy="499.0" r="1.05"/><circle cx="550.0" cy="481.1" r="1.05"/><circle cx="544.4" cy="447.4" r="1.05"/><circle cx="549.4" cy="481.1" r="1.05"/><circle cx="526.3" cy="461.7" r="1.05"/><circle cx="544.7" cy="487.5" r="1.05"/><circle cx="506.0" cy="514.4" r="1.05"/><circle cx="544.5" cy="486.4" r="1.05"/><circle cx="525.3" cy="522.7" r="1.05"/><circle cx="518.4" cy="473.0" r="1.05"/><circle cx="542.7" cy="462.7" r="1.05"/><circle cx="531.0" cy="488.1" r="1.05"/><circle cx="539.7" cy="474.2" r="1.05"/><circle cx="560.7" cy="445.5" r="1.05"/><circle cx="519.4" cy="468.6" r="1.05"/><circle cx="529.4" cy="519.6" r="1.05"/><circle cx="490.7" cy="512.8" r="1.05"/><circle cx="530.1" cy="509.7" r="1.05"/><circle cx="527.9" cy="531.4" r="1.05"/><circle cx="552.1" cy="475.8" r="1.05"/><circle cx="534.8" cy="485.3" r="1.05"/><circle cx="523.8" cy="491.8" r="1.05"/><circle cx="524.1" cy="517.4" r="1.05"/><circle cx="542.4" cy="476.6" r="1.05"/><circle cx="522.4" cy="469.1" r="1.05"/><circle cx="535.7" cy="461.5" r="1.05"/><circle cx="519.4" cy="463.8" r="1.05"/><circle cx="539.4" cy="487.1" r="1.05"/><circle cx="525.7" cy="472.7" r="1.05"/><circle cx="546.4" cy="463.7" r="1.05"/><circle cx="485.5" cy="520.8" r="1.05"/><circle cx="524.6" cy="478.7" r="1.05"/><circle cx="510.0" cy="492.9" r="1.05"/><circle cx="511.7" cy="518.0" r="1.05"/><circle cx="538.5" cy="448.8" r="1.05"/><circle cx="508.9" cy="507.3" r="1.05"/><circle cx="520.4" cy="526.2" r="1.05"/><circle cx="552.3" cy="464.9" r="1.05"/><circle cx="527.5" cy="466.7" r="1.05"/><circle cx="509.2" cy="467.8" r="1.05"/><circle cx="538.3" cy="486.9" r="1.05"/><circle cx="521.7" cy="490.5" r="1.05"/><circle cx="541.6" cy="478.8" r="1.05"/><circle cx="510.3" cy="478.6" r="1.05"/><circle cx="536.2" cy="460.4" r="1.05"/><circle cx="524.3" cy="522.9" r="1.05"/><circle cx="514.5" cy="494.5" r="1.05"/><circle cx="533.6" cy="505.6" r="1.05"/><circle cx="524.1" cy="500.0" r="1.05"/><circle cx="510.7" cy="504.2" r="1.05"/><circle cx="542.9" cy="493.8" r="1.05"/><circle cx="538.4" cy="477.2" r="1.05"/><circle cx="489.7" cy="507.6" r="1.05"/><circle cx="539.4" cy="495.7" r="1.05"/><circle cx="528.6" cy="492.4" r="1.05"/><circle cx="547.2" cy="481.0" r="1.05"/><circle cx="516.4" cy="512.4" r="1.05"/><circle cx="539.5" cy="485.5" r="1.05"/><circle cx="517.8" cy="483.6" r="1.05"/><circle cx="544.3" cy="481.3" r="1.05"/><circle cx="534.1" cy="503.0" r="1.05"/><circle cx="512.9" cy="475.2" r="1.05"/><circle cx="535.5" cy="482.3" r="1.05"/><circle cx="542.7" cy="448.2" r="1.05"/><circle cx="499.0" cy="499.5" r="1.05"/><circle cx="532.8" cy="466.7" r="1.05"/><circle cx="547.2" cy="446.8" r="1.05"/><circle cx="519.8" cy="500.5" r="1.05"/><circle cx="535.8" cy="492.4" r="1.05"/><circle cx="534.3" cy="497.2" r="1.05"/><circle cx="531.1" cy="497.8" r="1.05"/><circle cx="539.0" cy="454.0" r="1.05"/><circle cx="505.6" cy="497.5" r="1.05"/><circle cx="528.7" cy="525.7" r="1.05"/><circle cx="534.0" cy="474.3" r="1.05"/><circle cx="525.3" cy="516.9" r="1.05"/><circle cx="548.9" cy="457.8" r="1.05"/><circle cx="532.9" cy="505.3" r="1.05"/><circle cx="539.6" cy="471.1" r="1.05"/><circle cx="530.2" cy="487.1" r="1.05"/><circle cx="556.4" cy="452.1" r="1.05"/><circle cx="513.2" cy="466.8" r="1.05"/><circle cx="542.5" cy="492.6" r="1.05"/><circle cx="540.8" cy="495.2" r="1.05"/><circle cx="514.1" cy="520.2" r="1.05"/><circle cx="555.5" cy="455.4" r="1.05"/><circle cx="526.3" cy="489.5" r="1.05"/><circle cx="519.8" cy="528.8" r="1.05"/><circle cx="523.0" cy="469.3" r="1.05"/><circle cx="523.9" cy="493.3" r="1.05"/><circle cx="561.6" cy="445.3" r="1.05"/><circle cx="510.6" cy="514.7" r="1.05"/><circle cx="540.3" cy="467.4" r="1.05"/><circle cx="514.0" cy="499.2" r="1.05"/><circle cx="560.7" cy="440.8" r="1.05"/><circle cx="525.7" cy="486.6" r="1.05"/><circle cx="536.0" cy="493.7" r="1.05"/><circle cx="501.0" cy="518.9" r="1.05"/><circle cx="538.5" cy="471.4" r="1.05"/><circle cx="519.3" cy="471.7" r="1.05"/><circle cx="515.6" cy="488.1" r="1.05"/><circle cx="555.7" cy="458.9" r="1.05"/><circle cx="529.2" cy="524.3" r="1.05"/><circle cx="558.5" cy="460.5" r="1.05"/><circle cx="526.3" cy="508.7" r="1.05"/><circle cx="561.6" cy="441.2" r="1.05"/><circle cx="556.1" cy="459.1" r="1.05"/><circle cx="523.5" cy="464.8" r="1.05"/><circle cx="556.3" cy="467.4" r="1.05"/><circle cx="517.1" cy="467.6" r="1.05"/><circle cx="546.9" cy="455.6" r="1.05"/><circle cx="539.9" cy="471.7" r="1.05"/><circle cx="524.0" cy="481.9" r="1.05"/><circle cx="515.5" cy="510.6" r="1.05"/><circle cx="527.0" cy="486.4" r="1.05"/><circle cx="506.6" cy="475.5" r="1.05"/><circle cx="533.8" cy="483.7" r="1.05"/><circle cx="519.9" cy="491.5" r="1.05"/><circle cx="559.8" cy="457.9" r="1.05"/><circle cx="520.9" cy="492.4" r="1.05"/><circle cx="553.2" cy="441.1" r="1.05"/><circle cx="520.2" cy="520.2" r="1.05"/><circle cx="545.4" cy="461.4" r="1.05"/><circle cx="557.0" cy="459.4" r="1.05"/><circle cx="508.9" cy="508.4" r="1.05"/><circle cx="541.1" cy="463.3" r="1.05"/><circle cx="525.4" cy="497.8" r="1.05"/><circle cx="520.4" cy="492.1" r="1.05"/><circle cx="525.5" cy="492.8" r="1.05"/><circle cx="528.3" cy="520.8" r="1.05"/><circle cx="523.9" cy="471.2" r="1.05"/><circle cx="534.3" cy="497.7" r="1.05"/><circle cx="528.4" cy="508.7" r="1.05"/><circle cx="538.9" cy="483.7" r="1.05"/><circle cx="554.5" cy="443.8" r="1.05"/><circle cx="535.9" cy="454.2" r="1.05"/><circle cx="539.7" cy="481.2" r="1.05"/><circle cx="559.3" cy="439.6" r="1.05"/><circle cx="505.2" cy="497.0" r="1.05"/><circle cx="557.8" cy="458.5" r="1.05"/><circle cx="531.6" cy="506.2" r="1.05"/><circle cx="550.6" cy="444.9" r="1.05"/><circle cx="532.2" cy="456.7" r="1.05"/><circle cx="530.5" cy="464.6" r="1.05"/><circle cx="525.7" cy="529.4" r="1.05"/><circle cx="526.3" cy="498.5" r="1.05"/><circle cx="526.0" cy="527.5" r="1.05"/><circle cx="533.8" cy="471.6" r="1.05"/><circle cx="523.0" cy="479.1" r="1.05"/><circle cx="520.7" cy="515.5" r="1.05"/><circle cx="528.9" cy="533.4" r="1.05"/><circle cx="525.1" cy="496.9" r="1.05"/><circle cx="534.3" cy="508.0" r="1.05"/><circle cx="534.4" cy="483.5" r="1.05"/><circle cx="530.3" cy="502.0" r="1.05"/><circle cx="546.5" cy="448.8" r="1.05"/><circle cx="523.3" cy="519.6" r="1.05"/><circle cx="531.7" cy="502.1" r="1.05"/><circle cx="538.6" cy="457.7" r="1.05"/><circle cx="534.0" cy="466.2" r="1.05"/><circle cx="525.6" cy="485.1" r="1.05"/><circle cx="516.4" cy="472.9" r="1.05"/><circle cx="511.4" cy="512.2" r="1.05"/><circle cx="500.0" cy="501.9" r="1.05"/><circle cx="535.2" cy="493.7" r="1.05"/><circle cx="540.6" cy="456.1" r="1.05"/><circle cx="504.0" cy="494.4" r="1.05"/><circle cx="505.7" cy="502.2" r="1.05"/><circle cx="522.2" cy="463.0" r="1.05"/><circle cx="528.0" cy="514.3" r="1.05"/><circle cx="553.7" cy="451.6" r="1.05"/><circle cx="521.0" cy="516.0" r="1.05"/><circle cx="545.2" cy="477.2" r="1.05"/><circle cx="546.7" cy="480.8" r="1.05"/><circle cx="532.3" cy="469.3" r="1.05"/><circle cx="561.5" cy="447.6" r="1.05"/><circle cx="520.9" cy="497.1" r="1.05"/><circle cx="530.9" cy="517.6" r="1.05"/><circle cx="486.5" cy="499.6" r="1.05"/><circle cx="534.2" cy="513.7" r="1.05"/><circle cx="545.5" cy="455.8" r="1.05"/><circle cx="532.5" cy="469.8" r="1.05"/><circle cx="520.8" cy="474.4" r="1.05"/><circle cx="522.2" cy="499.9" r="1.05"/><circle cx="536.4" cy="509.1" r="1.05"/><circle cx="527.8" cy="482.2" r="1.05"/><circle cx="534.2" cy="481.7" r="1.05"/><circle cx="554.9" cy="445.9" r="1.05"/><circle cx="539.3" cy="476.8" r="1.05"/><circle cx="527.2" cy="462.9" r="1.05"/><circle cx="548.8" cy="485.4" r="1.05"/><circle cx="514.1" cy="481.6" r="1.05"/><circle cx="507.0" cy="487.2" r="1.05"/><circle cx="542.4" cy="482.0" r="1.05"/><circle cx="546.5" cy="456.6" r="1.05"/><circle cx="524.4" cy="467.3" r="1.05"/><circle cx="543.4" cy="487.5" r="1.05"/><circle cx="527.4" cy="502.5" r="1.05"/><circle cx="514.8" cy="523.1" r="1.05"/><circle cx="539.9" cy="460.7" r="1.05"/><circle cx="536.5" cy="476.0" r="1.05"/><circle cx="535.3" cy="491.7" r="1.05"/><circle cx="532.0" cy="519.1" r="1.05"/><circle cx="478.8" cy="506.9" r="1.05"/><circle cx="533.2" cy="492.0" r="1.05"/><circle cx="550.8" cy="441.8" r="1.05"/><circle cx="534.2" cy="494.3" r="1.05"/><circle cx="541.3" cy="476.4" r="1.05"/><circle cx="521.9" cy="495.1" r="1.05"/><circle cx="535.9" cy="500.8" r="1.05"/><circle cx="530.3" cy="524.5" r="1.05"/><circle cx="506.0" cy="475.5" r="1.05"/><circle cx="539.7" cy="449.7" r="1.05"/><circle cx="533.8" cy="483.2" r="1.05"/><circle cx="532.3" cy="516.9" r="1.05"/><circle cx="527.9" cy="478.7" r="1.05"/><circle cx="559.9" cy="457.1" r="1.05"/><circle cx="551.7" cy="471.4" r="1.05"/><circle cx="539.5" cy="490.6" r="1.05"/><circle cx="523.5" cy="473.4" r="1.05"/><circle cx="507.1" cy="517.6" r="1.05"/><circle cx="522.9" cy="510.1" r="1.05"/><circle cx="492.2" cy="509.5" r="1.05"/><circle cx="523.1" cy="471.8" r="1.05"/><circle cx="502.1" cy="511.2" r="1.05"/><circle cx="537.9" cy="455.0" r="1.05"/><circle cx="518.3" cy="473.7" r="1.05"/><circle cx="483.1" cy="519.8" r="1.05"/><circle cx="534.7" cy="496.0" r="1.05"/><circle cx="541.7" cy="452.1" r="1.05"/><circle cx="542.6" cy="470.1" r="1.05"/><circle cx="548.9" cy="456.7" r="1.05"/><circle cx="517.5" cy="518.1" r="1.05"/><circle cx="511.5" cy="522.6" r="1.05"/><circle cx="536.6" cy="474.7" r="1.05"/><circle cx="550.0" cy="457.3" r="1.05"/><circle cx="546.1" cy="448.5" r="1.05"/><circle cx="521.8" cy="478.3" r="1.05"/><circle cx="534.9" cy="476.8" r="1.05"/><circle cx="546.9" cy="477.6" r="1.05"/><circle cx="514.3" cy="500.0" r="1.05"/><circle cx="554.6" cy="468.3" r="1.05"/><circle cx="517.6" cy="503.4" r="1.05"/><circle cx="524.0" cy="483.7" r="1.05"/><circle cx="511.6" cy="470.5" r="1.05"/><circle cx="553.4" cy="469.0" r="1.05"/><circle cx="537.7" cy="474.9" r="1.05"/><circle cx="538.5" cy="491.0" r="1.05"/><circle cx="523.0" cy="462.4" r="1.05"/><circle cx="527.1" cy="523.0" r="1.05"/><circle cx="524.1" cy="494.2" r="1.05"/><circle cx="539.1" cy="472.7" r="1.05"/><circle cx="529.6" cy="481.0" r="1.05"/><circle cx="551.8" cy="450.6" r="1.05"/><circle cx="525.4" cy="483.1" r="1.05"/><circle cx="482.2" cy="514.6" r="1.05"/><circle cx="528.1" cy="522.5" r="1.05"/><circle cx="502.8" cy="477.5" r="1.05"/><circle cx="530.2" cy="498.3" r="1.05"/><circle cx="552.6" cy="473.2" r="1.05"/><circle cx="525.8" cy="463.4" r="1.05"/><circle cx="518.8" cy="479.7" r="1.05"/><circle cx="495.9" cy="486.4" r="1.05"/><circle cx="541.4" cy="495.8" r="1.05"/><circle cx="561.4" cy="446.7" r="1.05"/><circle cx="518.3" cy="480.4" r="1.05"/><circle cx="519.7" cy="473.3" r="1.05"/><circle cx="531.0" cy="458.4" r="1.05"/><circle cx="544.4" cy="447.4" r="1.05"/><circle cx="547.1" cy="463.3" r="1.05"/><circle cx="528.2" cy="496.1" r="1.05"/><circle cx="559.4" cy="443.1" r="1.05"/><circle cx="531.7" cy="479.3" r="1.05"/><circle cx="530.0" cy="528.6" r="1.05"/><circle cx="547.8" cy="453.5" r="1.05"/><circle cx="532.5" cy="506.8" r="1.05"/><circle cx="520.3" cy="522.1" r="1.05"/><circle cx="526.0" cy="511.7" r="1.05"/><circle cx="524.5" cy="491.2" r="1.05"/><circle cx="529.7" cy="460.8" r="1.05"/><circle cx="548.9" cy="469.0" r="1.05"/><circle cx="536.6" cy="471.8" r="1.05"/><circle cx="537.3" cy="453.8" r="1.05"/><circle cx="531.3" cy="458.8" r="1.05"/><circle cx="545.6" cy="467.2" r="1.05"/><circle cx="535.2" cy="501.4" r="1.05"/><circle cx="519.4" cy="521.9" r="1.05"/><circle cx="530.2" cy="483.5" r="1.05"/><circle cx="538.4" cy="453.0" r="1.05"/><circle cx="556.1" cy="453.3" r="1.05"/><circle cx="519.9" cy="488.2" r="1.05"/><circle cx="543.4" cy="457.9" r="1.05"/><circle cx="535.7" cy="471.1" r="1.05"/><circle cx="482.7" cy="518.6" r="1.05"/><circle cx="558.0" cy="443.0" r="1.05"/><circle cx="522.5" cy="483.4" r="1.05"/><circle cx="556.8" cy="465.8" r="1.05"/><circle cx="519.1" cy="484.4" r="1.05"/><circle cx="543.1" cy="464.6" r="1.05"/><circle cx="506.6" cy="510.3" r="1.05"/><circle cx="495.7" cy="483.5" r="1.05"/><circle cx="522.3" cy="485.1" r="1.05"/><circle cx="539.3" cy="499.6" r="1.05"/><circle cx="525.9" cy="507.8" r="1.05"/><circle cx="551.7" cy="447.3" r="1.05"/><circle cx="524.9" cy="530.3" r="1.05"/><circle cx="554.5" cy="461.1" r="1.05"/><circle cx="552.8" cy="474.7" r="1.05"/><circle cx="510.7" cy="470.0" r="1.05"/><circle cx="561.3" cy="447.5" r="1.05"/><circle cx="528.2" cy="531.7" r="1.05"/><circle cx="529.1" cy="534.5" r="1.05"/><circle cx="515.3" cy="499.2" r="1.05"/><circle cx="533.3" cy="483.9" r="1.05"/><circle cx="522.0" cy="488.8" r="1.05"/><circle cx="533.1" cy="459.5" r="1.05"/><circle cx="477.0" cy="500.0" r="1.05"/><circle cx="524.2" cy="490.9" r="1.05"/><circle cx="561.8" cy="447.0" r="1.05"/><circle cx="557.6" cy="462.2" r="1.05"/><circle cx="533.5" cy="456.9" r="1.05"/><circle cx="513.8" cy="517.8" r="1.05"/><circle cx="510.5" cy="500.2" r="1.05"/><circle cx="525.4" cy="462.8" r="1.05"/><circle cx="531.2" cy="478.1" r="1.05"/><circle cx="525.2" cy="512.1" r="1.05"/><circle cx="561.6" cy="441.9" r="1.05"/><circle cx="513.2" cy="465.7" r="1.05"/><circle cx="524.4" cy="522.6" r="1.05"/><circle cx="547.3" cy="478.8" r="1.05"/><circle cx="528.2" cy="507.5" r="1.05"/><circle cx="532.9" cy="455.5" r="1.05"/><circle cx="546.1" cy="462.3" r="1.05"/><circle cx="521.1" cy="494.5" r="1.05"/><circle cx="525.5" cy="493.0" r="1.05"/><circle cx="521.8" cy="487.8" r="1.05"/><circle cx="558.0" cy="460.9" r="1.05"/><circle cx="524.6" cy="490.1" r="1.05"/><circle cx="556.0" cy="448.1" r="1.05"/><circle cx="517.3" cy="480.1" r="1.05"/><circle cx="518.4" cy="477.8" r="1.05"/><circle cx="531.9" cy="461.9" r="1.05"/><circle cx="528.3" cy="530.4" r="1.05"/><circle cx="543.7" cy="464.8" r="1.05"/><circle cx="543.2" cy="480.2" r="1.05"/><circle cx="529.8" cy="517.2" r="1.05"/><circle cx="531.5" cy="494.0" r="1.05"/><circle cx="496.4" cy="490.6" r="1.05"/><circle cx="548.2" cy="481.1" r="1.05"/><circle cx="560.0" cy="442.9" r="1.05"/><circle cx="531.9" cy="496.2" r="1.05"/><circle cx="528.3" cy="480.9" r="1.05"/><circle cx="515.0" cy="523.8" r="1.05"/><circle cx="518.4" cy="487.2" r="1.05"/><circle cx="509.8" cy="512.8" r="1.05"/><circle cx="539.8" cy="474.6" r="1.05"/><circle cx="543.5" cy="460.5" r="1.05"/><circle cx="530.1" cy="516.0" r="1.05"/><circle cx="524.4" cy="467.4" r="1.05"/><circle cx="545.5" cy="489.7" r="1.05"/><circle cx="539.4" cy="480.4" r="1.05"/><circle cx="554.6" cy="463.1" r="1.05"/><circle cx="530.3" cy="528.9" r="1.05"/><circle cx="528.8" cy="511.0" r="1.05"/><circle cx="540.3" cy="482.0" r="1.05"/><circle cx="545.7" cy="455.1" r="1.05"/><circle cx="519.1" cy="521.1" r="1.05"/><circle cx="549.5" cy="466.3" r="1.05"/><circle cx="552.7" cy="439.8" r="1.05"/><circle cx="554.0" cy="450.2" r="1.05"/><circle cx="532.4" cy="465.6" r="1.05"/><circle cx="531.0" cy="514.0" r="1.05"/><circle cx="517.7" cy="464.8" r="1.05"/><circle cx="516.3" cy="488.2" r="1.05"/><circle cx="546.6" cy="446.4" r="1.05"/><circle cx="561.0" cy="447.1" r="1.05"/><circle cx="553.3" cy="469.2" r="1.05"/><circle cx="525.4" cy="469.8" r="1.05"/><circle cx="537.5" cy="463.0" r="1.05"/><circle cx="540.8" cy="448.1" r="1.05"/><circle cx="540.0" cy="497.9" r="1.05"/><circle cx="528.1" cy="484.9" r="1.05"/><circle cx="523.8" cy="499.9" r="1.05"/><circle cx="526.1" cy="467.8" r="1.05"/><circle cx="530.4" cy="478.4" r="1.05"/><circle cx="508.4" cy="494.1" r="1.05"/><circle cx="525.7" cy="460.7" r="1.05"/><circle cx="562.5" cy="446.3" r="1.05"/><circle cx="549.6" cy="441.2" r="1.05"/><circle cx="524.2" cy="490.3" r="1.05"/><circle cx="530.2" cy="498.3" r="1.05"/><circle cx="546.4" cy="483.7" r="1.05"/><circle cx="511.7" cy="506.7" r="1.05"/><circle cx="548.9" cy="452.0" r="1.05"/><circle cx="527.1" cy="516.1" r="1.05"/><circle cx="524.0" cy="514.5" r="1.05"/><circle cx="529.3" cy="465.1" r="1.05"/><circle cx="530.1" cy="507.2" r="1.05"/><circle cx="505.1" cy="495.3" r="1.05"/><circle cx="526.7" cy="520.2" r="1.05"/><circle cx="507.6" cy="511.9" r="1.05"/><circle cx="534.0" cy="478.7" r="1.05"/><circle cx="524.3" cy="513.1" r="1.05"/><circle cx="529.9" cy="492.9" r="1.05"/><circle cx="532.8" cy="498.0" r="1.05"/><circle cx="532.2" cy="494.5" r="1.05"/><circle cx="541.2" cy="459.1" r="1.05"/><circle cx="559.1" cy="444.9" r="1.05"/><circle cx="551.6" cy="475.7" r="1.05"/><circle cx="550.6" cy="482.4" r="1.05"/><circle cx="558.2" cy="440.5" r="1.05"/><circle cx="477.6" cy="506.2" r="1.05"/><circle cx="522.4" cy="506.3" r="1.05"/><circle cx="525.3" cy="464.6" r="1.05"/><circle cx="526.5" cy="491.0" r="1.05"/><circle cx="519.2" cy="486.3" r="1.05"/><circle cx="561.0" cy="450.3" r="1.05"/><circle cx="532.8" cy="516.6" r="1.05"/><circle cx="519.2" cy="488.6" r="1.05"/><circle cx="526.5" cy="501.6" r="1.05"/><circle cx="511.7" cy="471.8" r="1.05"/><circle cx="517.7" cy="480.9" r="1.05"/><circle cx="522.4" cy="506.6" r="1.05"/><circle cx="524.5" cy="495.6" r="1.05"/><circle cx="512.3" cy="476.4" r="1.05"/><circle cx="529.7" cy="512.5" r="1.05"/><circle cx="537.4" cy="468.2" r="1.05"/><circle cx="511.3" cy="513.5" r="1.05"/><circle cx="527.7" cy="490.3" r="1.05"/><circle cx="542.1" cy="484.6" r="1.05"/><circle cx="521.6" cy="467.3" r="1.05"/><circle cx="511.2" cy="521.5" r="1.05"/><circle cx="513.1" cy="500.5" r="1.05"/><circle cx="546.7" cy="469.2" r="1.05"/><circle cx="524.9" cy="509.2" r="1.05"/><circle cx="528.4" cy="490.8" r="1.05"/><circle cx="542.9" cy="489.3" r="1.05"/><circle cx="498.7" cy="517.1" r="1.05"/><circle cx="541.2" cy="454.0" r="1.05"/><circle cx="540.1" cy="473.7" r="1.05"/><circle cx="532.5" cy="475.4" r="1.05"/><circle cx="524.7" cy="488.2" r="1.05"/><circle cx="553.2" cy="459.3" r="1.05"/><circle cx="512.7" cy="475.9" r="1.05"/><circle cx="542.9" cy="489.8" r="1.05"/><circle cx="556.7" cy="466.0" r="1.05"/><circle cx="513.8" cy="512.3" r="1.05"/><circle cx="525.9" cy="482.1" r="1.05"/><circle cx="526.9" cy="488.4" r="1.05"/><circle cx="544.1" cy="490.8" r="1.05"/><circle cx="541.8" cy="491.3" r="1.05"/><circle cx="539.9" cy="464.5" r="1.05"/><circle cx="550.8" cy="456.4" r="1.05"/><circle cx="528.8" cy="525.0" r="1.05"/><circle cx="539.7" cy="495.1" r="1.05"/><circle cx="508.8" cy="473.9" r="1.05"/><circle cx="519.1" cy="485.9" r="1.05"/><circle cx="540.3" cy="447.9" r="1.05"/><circle cx="518.6" cy="498.6" r="1.05"/><circle cx="498.8" cy="480.0" r="1.05"/><circle cx="520.6" cy="517.0" r="1.05"/><circle cx="529.2" cy="482.8" r="1.05"/><circle cx="537.3" cy="507.9" r="1.05"/><circle cx="556.6" cy="458.7" r="1.05"/><circle cx="538.3" cy="482.0" r="1.05"/><circle cx="552.8" cy="445.5" r="1.05"/><circle cx="528.3" cy="486.6" r="1.05"/><circle cx="487.3" cy="510.7" r="1.05"/><circle cx="541.0" cy="459.8" r="1.05"/><circle cx="550.4" cy="469.7" r="1.05"/><circle cx="538.8" cy="479.2" r="1.05"/><circle cx="531.7" cy="468.4" r="1.05"/><circle cx="485.7" cy="508.3" r="1.05"/><circle cx="546.3" cy="463.7" r="1.05"/><circle cx="525.3" cy="517.0" r="1.05"/><circle cx="541.6" cy="461.7" r="1.05"/><circle cx="559.4" cy="448.8" r="1.05"/><circle cx="533.6" cy="474.1" r="1.05"/><circle cx="519.8" cy="474.4" r="1.05"/><circle cx="538.0" cy="499.7" r="1.05"/><circle cx="533.2" cy="501.2" r="1.05"/><circle cx="520.6" cy="489.2" r="1.05"/><circle cx="544.8" cy="451.6" r="1.05"/><circle cx="528.6" cy="496.1" r="1.05"/><circle cx="531.5" cy="513.1" r="1.05"/><circle cx="553.9" cy="449.6" r="1.05"/><circle cx="551.1" cy="465.7" r="1.05"/><circle cx="550.8" cy="463.2" r="1.05"/><circle cx="551.8" cy="442.8" r="1.05"/><circle cx="499.5" cy="482.3" r="1.05"/><circle cx="543.0" cy="459.0" r="1.05"/><circle cx="532.2" cy="509.2" r="1.05"/><circle cx="520.3" cy="521.5" r="1.05"/><circle cx="526.7" cy="521.5" r="1.05"/><circle cx="521.9" cy="511.2" r="1.05"/><circle cx="551.1" cy="454.4" r="1.05"/><circle cx="502.4" cy="517.4" r="1.05"/><circle cx="524.9" cy="474.7" r="1.05"/><circle cx="530.0" cy="470.4" r="1.05"/><circle cx="533.0" cy="481.9" r="1.05"/><circle cx="531.7" cy="481.8" r="1.05"/><circle cx="548.1" cy="457.7" r="1.05"/><circle cx="562.3" cy="441.9" r="1.05"/><circle cx="539.5" cy="481.9" r="1.05"/><circle cx="502.0" cy="511.8" r="1.05"/><circle cx="532.5" cy="484.8" r="1.05"/><circle cx="556.1" cy="455.6" r="1.05"/><circle cx="491.0" cy="515.9" r="1.05"/><circle cx="556.3" cy="453.8" r="1.05"/><circle cx="526.0" cy="488.6" r="1.05"/><circle cx="530.2" cy="507.3" r="1.05"/><circle cx="535.5" cy="467.4" r="1.05"/><circle cx="531.1" cy="457.2" r="1.05"/><circle cx="538.8" cy="492.5" r="1.05"/><circle cx="549.9" cy="474.4" r="1.05"/><circle cx="538.4" cy="503.3" r="1.05"/><circle cx="526.0" cy="477.6" r="1.05"/><circle cx="553.1" cy="446.4" r="1.05"/><circle cx="540.9" cy="453.1" r="1.05"/><circle cx="543.2" cy="472.5" r="1.05"/><circle cx="518.4" cy="517.1" r="1.05"/><circle cx="556.3" cy="457.9" r="1.05"/><circle cx="533.9" cy="499.3" r="1.05"/><circle cx="539.8" cy="454.1" r="1.05"/><circle cx="495.5" cy="488.3" r="1.05"/><circle cx="543.9" cy="485.6" r="1.05"/><circle cx="525.6" cy="476.5" r="1.05"/><circle cx="537.9" cy="491.5" r="1.05"/><circle cx="556.2" cy="443.2" r="1.05"/><circle cx="513.1" cy="521.0" r="1.05"/><circle cx="524.4" cy="504.0" r="1.05"/><circle cx="529.7" cy="471.3" r="1.05"/><circle cx="543.0" cy="460.5" r="1.05"/><circle cx="523.1" cy="489.2" r="1.05"/><circle cx="520.6" cy="474.6" r="1.05"/><circle cx="556.8" cy="462.3" r="1.05"/><circle cx="514.3" cy="512.0" r="1.05"/><circle cx="534.8" cy="484.9" r="1.05"/><circle cx="525.9" cy="515.8" r="1.05"/><circle cx="531.2" cy="517.5" r="1.05"/><circle cx="535.7" cy="465.7" r="1.05"/><circle cx="517.4" cy="483.9" r="1.05"/><circle cx="512.2" cy="470.8" r="1.05"/><circle cx="516.8" cy="495.6" r="1.05"/><circle cx="532.4" cy="487.3" r="1.05"/><circle cx="539.7" cy="493.2" r="1.05"/><circle cx="515.9" cy="476.4" r="1.05"/><circle cx="543.3" cy="463.8" r="1.05"/><circle cx="559.1" cy="444.4" r="1.05"/><circle cx="549.6" cy="466.8" r="1.05"/><circle cx="539.3" cy="454.4" r="1.05"/><circle cx="538.7" cy="494.3" r="1.05"/><circle cx="538.8" cy="484.0" r="1.05"/><circle cx="532.1" cy="501.7" r="1.05"/><circle cx="514.1" cy="484.6" r="1.05"/><circle cx="549.5" cy="481.4" r="1.05"/><circle cx="476.8" cy="511.9" r="1.05"/><circle cx="528.7" cy="516.4" r="1.05"/><circle cx="539.4" cy="464.0" r="1.05"/><circle cx="544.4" cy="461.1" r="1.05"/><circle cx="519.6" cy="502.0" r="1.05"/><circle cx="484.8" cy="498.8" r="1.05"/><circle cx="480.0" cy="510.5" r="1.05"/><circle cx="520.1" cy="521.0" r="1.05"/><circle cx="553.8" cy="447.6" r="1.05"/><circle cx="532.7" cy="487.8" r="1.05"/><circle cx="505.5" cy="516.3" r="1.05"/><circle cx="528.9" cy="462.0" r="1.05"/><circle cx="544.3" cy="474.6" r="1.05"/><circle cx="554.7" cy="447.6" r="1.05"/><circle cx="531.7" cy="475.7" r="1.05"/><circle cx="560.9" cy="453.0" r="1.05"/><circle cx="528.9" cy="484.7" r="1.05"/><circle cx="526.2" cy="478.4" r="1.05"/><circle cx="513.7" cy="481.1" r="1.05"/><circle cx="481.5" cy="513.1" r="1.05"/><circle cx="557.8" cy="443.1" r="1.05"/><circle cx="532.1" cy="498.6" r="1.05"/><circle cx="544.3" cy="473.7" r="1.05"/><circle cx="536.7" cy="484.5" r="1.05"/><circle cx="558.1" cy="442.8" r="1.05"/><circle cx="553.4" cy="454.0" r="1.05"/><circle cx="547.0" cy="488.1" r="1.05"/><circle cx="510.4" cy="494.4" r="1.05"/><circle cx="547.8" cy="473.0" r="1.05"/><circle cx="534.9" cy="498.5" r="1.05"/><circle cx="545.2" cy="457.6" r="1.05"/><circle cx="549.4" cy="442.4" r="1.05"/><circle cx="518.1" cy="505.9" r="1.05"/><circle cx="553.8" cy="444.0" r="1.05"/><circle cx="554.9" cy="456.4" r="1.05"/><circle cx="527.1" cy="511.2" r="1.05"/><circle cx="520.9" cy="471.3" r="1.05"/><circle cx="556.7" cy="440.2" r="1.05"/><circle cx="549.1" cy="444.1" r="1.05"/><circle cx="514.6" cy="513.5" r="1.05"/><circle cx="530.0" cy="511.2" r="1.05"/><circle cx="522.0" cy="484.3" r="1.05"/><circle cx="525.1" cy="512.9" r="1.05"/><circle cx="542.2" cy="488.9" r="1.05"/><circle cx="522.0" cy="493.7" r="1.05"/><circle cx="499.6" cy="483.2" r="1.05"/><circle cx="548.0" cy="465.3" r="1.05"/><circle cx="490.8" cy="518.9" r="1.05"/><circle cx="533.6" cy="497.2" r="1.05"/><circle cx="555.3" cy="444.3" r="1.05"/><circle cx="524.8" cy="510.5" r="1.05"/><circle cx="531.9" cy="506.0" r="1.05"/><circle cx="529.3" cy="488.6" r="1.05"/><circle cx="489.1" cy="509.8" r="1.05"/><circle cx="547.9" cy="469.4" r="1.05"/><circle cx="551.2" cy="478.3" r="1.05"/><circle cx="492.8" cy="498.5" r="1.05"/><circle cx="559.4" cy="444.5" r="1.05"/><circle cx="524.6" cy="487.9" r="1.05"/><circle cx="523.0" cy="470.0" r="1.05"/><circle cx="555.1" cy="462.5" r="1.05"/><circle cx="530.8" cy="522.0" r="1.05"/><circle cx="534.2" cy="514.0" r="1.05"/><circle cx="538.4" cy="469.4" r="1.05"/><circle cx="474.0" cy="505.4" r="1.05"/><circle cx="525.0" cy="470.2" r="1.05"/><circle cx="504.1" cy="472.2" r="1.05"/><circle cx="528.1" cy="526.9" r="1.05"/><circle cx="522.4" cy="527.8" r="1.05"/><circle cx="536.1" cy="475.0" r="1.05"/><circle cx="549.0" cy="472.8" r="1.05"/><circle cx="523.6" cy="477.4" r="1.05"/><circle cx="517.3" cy="502.3" r="1.05"/><circle cx="524.5" cy="489.0" r="1.05"/><circle cx="551.2" cy="474.7" r="1.05"/><circle cx="541.1" cy="492.7" r="1.05"/><circle cx="520.5" cy="486.9" r="1.05"/><circle cx="542.6" cy="494.1" r="1.05"/><circle cx="535.4" cy="481.0" r="1.05"/><circle cx="532.1" cy="497.2" r="1.05"/><circle cx="537.7" cy="473.0" r="1.05"/><circle cx="524.2" cy="524.9" r="1.05"/><circle cx="523.6" cy="468.4" r="1.05"/><circle cx="548.9" cy="448.3" r="1.05"/><circle cx="555.6" cy="452.3" r="1.05"/><circle cx="513.5" cy="503.8" r="1.05"/><circle cx="533.5" cy="463.1" r="1.05"/><circle cx="527.0" cy="459.3" r="1.05"/><circle cx="530.5" cy="502.4" r="1.05"/><circle cx="520.6" cy="469.1" r="1.05"/><circle cx="527.3" cy="462.6" r="1.05"/><circle cx="527.4" cy="459.4" r="1.05"/><circle cx="526.7" cy="521.5" r="1.05"/><circle cx="539.7" cy="470.7" r="1.05"/><circle cx="482.0" cy="503.0" r="1.05"/><circle cx="537.1" cy="493.1" r="1.05"/><circle cx="547.7" cy="470.6" r="1.05"/><circle cx="539.0" cy="467.3" r="1.05"/><circle cx="525.5" cy="497.3" r="1.05"/><circle cx="556.6" cy="468.5" r="1.05"/><circle cx="544.9" cy="466.2" r="1.05"/><circle cx="560.4" cy="449.9" r="1.05"/><circle cx="552.8" cy="457.5" r="1.05"/><circle cx="520.0" cy="493.9" r="1.05"/><circle cx="515.3" cy="487.7" r="1.05"/><circle cx="553.6" cy="453.8" r="1.05"/><circle cx="532.3" cy="471.1" r="1.05"/><circle cx="517.3" cy="500.6" r="1.05"/><circle cx="522.6" cy="530.5" r="1.05"/><circle cx="535.5" cy="459.2" r="1.05"/><circle cx="552.7" cy="446.9" r="1.05"/><circle cx="540.4" cy="455.7" r="1.05"/><circle cx="523.2" cy="491.8" r="1.05"/><circle cx="553.1" cy="480.2" r="1.05"/><circle cx="491.9" cy="513.9" r="1.05"/><circle cx="559.4" cy="451.1" r="1.05"/><circle cx="505.4" cy="484.5" r="1.05"/><circle cx="547.9" cy="445.6" r="1.05"/><circle cx="529.1" cy="513.5" r="1.05"/><circle cx="542.3" cy="466.6" r="1.05"/><circle cx="535.8" cy="507.9" r="1.05"/><circle cx="544.4" cy="465.9" r="1.05"/><circle cx="509.1" cy="490.2" r="1.05"/><circle cx="531.7" cy="496.1" r="1.05"/><circle cx="529.0" cy="496.4" r="1.05"/><circle cx="534.6" cy="457.2" r="1.05"/><circle cx="504.0" cy="484.3" r="1.05"/><circle cx="529.6" cy="529.0" r="1.05"/><circle cx="522.5" cy="476.6" r="1.05"/><circle cx="525.0" cy="518.4" r="1.05"/><circle cx="523.1" cy="528.5" r="1.05"/><circle cx="525.2" cy="460.2" r="1.05"/><circle cx="526.4" cy="519.9" r="1.05"/><circle cx="532.8" cy="469.7" r="1.05"/><circle cx="511.7" cy="467.3" r="1.05"/><circle cx="531.4" cy="463.0" r="1.05"/><circle cx="547.9" cy="475.6" r="1.05"/><circle cx="538.2" cy="480.8" r="1.05"/><circle cx="543.0" cy="488.6" r="1.05"/><circle cx="560.2" cy="454.0" r="1.05"/><circle cx="483.2" cy="513.3" r="1.05"/><circle cx="504.8" cy="493.5" r="1.05"/><circle cx="524.0" cy="497.0" r="1.05"/><circle cx="481.8" cy="510.0" r="1.05"/><circle cx="533.8" cy="504.3" r="1.05"/><circle cx="542.9" cy="472.6" r="1.05"/><circle cx="523.0" cy="524.2" r="1.05"/><circle cx="530.3" cy="486.7" r="1.05"/><circle cx="518.3" cy="510.5" r="1.05"/><circle cx="522.4" cy="482.9" r="1.05"/><circle cx="560.4" cy="447.9" r="1.05"/><circle cx="555.7" cy="457.3" r="1.05"/><circle cx="538.3" cy="449.6" r="1.05"/><circle cx="481.2" cy="497.3" r="1.05"/><circle cx="512.2" cy="474.7" r="1.05"/><circle cx="535.8" cy="454.9" r="1.05"/><circle cx="514.5" cy="468.1" r="1.05"/><circle cx="524.7" cy="462.1" r="1.05"/><circle cx="554.4" cy="439.5" r="1.05"/><circle cx="518.3" cy="481.4" r="1.05"/><circle cx="561.5" cy="442.3" r="1.05"/><circle cx="547.2" cy="481.8" r="1.05"/><circle cx="548.0" cy="455.8" r="1.05"/><circle cx="546.7" cy="457.9" r="1.05"/><circle cx="524.4" cy="513.1" r="1.05"/><circle cx="506.6" cy="488.9" r="1.05"/><circle cx="531.5" cy="504.4" r="1.05"/><circle cx="540.8" cy="486.3" r="1.05"/><circle cx="524.8" cy="509.2" r="1.05"/><circle cx="526.9" cy="461.1" r="1.05"/><circle cx="547.9" cy="452.1" r="1.05"/><circle cx="546.6" cy="464.4" r="1.05"/><circle cx="504.4" cy="496.8" r="1.05"/><circle cx="524.6" cy="466.2" r="1.05"/><circle cx="553.9" cy="458.9" r="1.05"/><circle cx="521.5" cy="515.9" r="1.05"/><circle cx="531.0" cy="503.4" r="1.05"/><circle cx="483.7" cy="515.9" r="1.05"/><circle cx="514.4" cy="522.5" r="1.05"/><circle cx="506.7" cy="492.4" r="1.05"/><circle cx="549.0" cy="455.1" r="1.05"/><circle cx="518.6" cy="467.5" r="1.05"/><circle cx="534.4" cy="466.7" r="1.05"/><circle cx="522.3" cy="500.3" r="1.05"/><circle cx="542.9" cy="493.6" r="1.05"/><circle cx="556.4" cy="448.8" r="1.05"/><circle cx="527.6" cy="525.2" r="1.05"/><circle cx="522.3" cy="503.5" r="1.05"/><circle cx="551.9" cy="457.7" r="1.05"/><circle cx="520.2" cy="485.5" r="1.05"/><circle cx="528.6" cy="512.6" r="1.05"/><circle cx="539.9" cy="489.6" r="1.05"/><circle cx="550.8" cy="469.5" r="1.05"/><circle cx="504.7" cy="476.4" r="1.05"/><circle cx="499.5" cy="481.5" r="1.05"/><circle cx="529.1" cy="516.7" r="1.05"/><circle cx="561.5" cy="442.1" r="1.05"/><circle cx="496.6" cy="502.5" r="1.05"/><circle cx="521.7" cy="470.2" r="1.05"/><circle cx="537.3" cy="480.6" r="1.05"/><circle cx="528.3" cy="516.7" r="1.05"/><circle cx="509.1" cy="486.5" r="1.05"/><circle cx="532.4" cy="513.9" r="1.05"/><circle cx="521.9" cy="528.2" r="1.05"/><circle cx="527.7" cy="531.2" r="1.05"/><circle cx="523.1" cy="487.2" r="1.05"/><circle cx="525.8" cy="495.3" r="1.05"/><circle cx="527.3" cy="530.2" r="1.05"/><circle cx="524.2" cy="462.1" r="1.05"/><circle cx="555.2" cy="466.7" r="1.05"/><circle cx="552.6" cy="473.3" r="1.05"/><circle cx="525.1" cy="461.4" r="1.05"/><circle cx="524.6" cy="482.0" r="1.05"/><circle cx="543.3" cy="464.0" r="1.05"/><circle cx="540.8" cy="492.3" r="1.05"/><circle cx="523.0" cy="467.2" r="1.05"/><circle cx="545.1" cy="483.0" r="1.05"/><circle cx="547.3" cy="466.0" r="1.05"/><circle cx="542.8" cy="473.9" r="1.05"/><circle cx="522.0" cy="501.7" r="1.05"/><circle cx="553.1" cy="470.2" r="1.05"/><circle cx="553.5" cy="471.0" r="1.05"/><circle cx="504.7" cy="472.7" r="1.05"/><circle cx="520.2" cy="471.0" r="1.05"/><circle cx="537.5" cy="455.0" r="1.05"/><circle cx="521.2" cy="471.1" r="1.05"/><circle cx="506.6" cy="512.3" r="1.05"/><circle cx="529.8" cy="470.4" r="1.05"/><circle cx="558.8" cy="442.8" r="1.05"/><circle cx="524.8" cy="507.8" r="1.05"/><circle cx="551.4" cy="448.3" r="1.05"/><circle cx="543.8" cy="481.8" r="1.05"/><circle cx="540.9" cy="483.3" r="1.05"/><circle cx="522.7" cy="481.0" r="1.05"/><circle cx="537.2" cy="477.1" r="1.05"/><circle cx="550.7" cy="453.1" r="1.05"/><circle cx="528.3" cy="495.6" r="1.05"/><circle cx="545.7" cy="467.6" r="1.05"/><circle cx="530.8" cy="477.0" r="1.05"/><circle cx="544.5" cy="454.4" r="1.05"/><circle cx="523.9" cy="503.3" r="1.05"/><circle cx="539.5" cy="452.8" r="1.05"/><circle cx="545.8" cy="471.1" r="1.05"/><circle cx="556.5" cy="443.3" r="1.05"/><circle cx="506.0" cy="491.0" r="1.05"/><circle cx="545.5" cy="488.7" r="1.05"/><circle cx="503.5" cy="489.0" r="1.05"/><circle cx="539.1" cy="479.3" r="1.05"/><circle cx="543.7" cy="475.7" r="1.05"/><circle cx="536.8" cy="500.1" r="1.05"/><circle cx="526.4" cy="472.3" r="1.05"/><circle cx="532.1" cy="506.4" r="1.05"/><circle cx="493.5" cy="502.4" r="1.05"/><circle cx="541.9" cy="478.7" r="1.05"/><circle cx="527.1" cy="505.3" r="1.05"/><circle cx="530.6" cy="481.4" r="1.05"/><circle cx="522.4" cy="501.5" r="1.05"/><circle cx="522.9" cy="489.1" r="1.05"/><circle cx="534.5" cy="486.8" r="1.05"/><circle cx="526.7" cy="467.0" r="1.05"/><circle cx="529.9" cy="480.0" r="1.05"/><circle cx="518.9" cy="471.0" r="1.05"/><circle cx="554.6" cy="451.7" r="1.05"/><circle cx="480.0" cy="508.0" r="1.05"/><circle cx="558.8" cy="459.2" r="1.05"/><circle cx="518.7" cy="472.9" r="1.05"/><circle cx="546.3" cy="480.4" r="1.05"/><circle cx="546.5" cy="477.7" r="1.05"/><circle cx="520.8" cy="510.1" r="1.05"/><circle cx="554.3" cy="449.4" r="1.05"/><circle cx="528.5" cy="479.3" r="1.05"/><circle cx="513.9" cy="494.6" r="1.05"/><circle cx="532.3" cy="516.3" r="1.05"/><circle cx="536.4" cy="478.5" r="1.05"/><circle cx="500.6" cy="492.9" r="1.05"/><circle cx="523.6" cy="484.3" r="1.05"/><circle cx="527.3" cy="518.5" r="1.05"/><circle cx="559.9" cy="454.6" r="1.05"/><circle cx="526.1" cy="458.6" r="1.05"/><circle cx="556.8" cy="439.2" r="1.05"/><circle cx="546.8" cy="483.0" r="1.05"/><circle cx="530.1" cy="496.0" r="1.05"/><circle cx="532.2" cy="519.8" r="1.05"/><circle cx="519.8" cy="515.6" r="1.05"/><circle cx="526.0" cy="508.7" r="1.05"/><circle cx="535.0" cy="482.5" r="1.05"/><circle cx="548.8" cy="449.5" r="1.05"/><circle cx="558.8" cy="441.8" r="1.05"/><circle cx="530.8" cy="514.1" r="1.05"/><circle cx="485.1" cy="497.8" r="1.05"/><circle cx="542.6" cy="460.8" r="1.05"/><circle cx="517.8" cy="475.0" r="1.05"/><circle cx="528.2" cy="508.3" r="1.05"/><circle cx="534.8" cy="462.2" r="1.05"/><circle cx="549.2" cy="473.6" r="1.05"/><circle cx="511.2" cy="522.0" r="1.05"/><circle cx="511.6" cy="497.7" r="1.05"/><circle cx="530.6" cy="513.2" r="1.05"/><circle cx="525.1" cy="462.9" r="1.05"/><circle cx="508.6" cy="504.5" r="1.05"/><circle cx="528.5" cy="500.2" r="1.05"/><circle cx="547.2" cy="472.8" r="1.05"/><circle cx="523.3" cy="511.4" r="1.05"/><circle cx="529.9" cy="464.3" r="1.05"/><circle cx="552.2" cy="443.2" r="1.05"/><circle cx="522.7" cy="476.8" r="1.05"/><circle cx="530.5" cy="466.5" r="1.05"/><circle cx="531.3" cy="477.4" r="1.05"/><circle cx="526.6" cy="478.0" r="1.05"/><circle cx="550.6" cy="463.0" r="1.05"/><circle cx="546.0" cy="464.5" r="1.05"/><circle cx="522.4" cy="498.4" r="1.05"/><circle cx="514.7" cy="466.4" r="1.05"/><circle cx="492.2" cy="506.0" r="1.05"/><circle cx="506.6" cy="472.9" r="1.05"/><circle cx="546.8" cy="474.7" r="1.05"/><circle cx="545.4" cy="475.3" r="1.05"/><circle cx="555.2" cy="469.8" r="1.05"/><circle cx="546.2" cy="459.4" r="1.05"/><circle cx="504.2" cy="507.9" r="1.05"/><circle cx="525.5" cy="488.7" r="1.05"/><circle cx="537.9" cy="486.6" r="1.05"/><circle cx="530.2" cy="485.8" r="1.05"/><circle cx="529.7" cy="512.0" r="1.05"/><circle cx="553.2" cy="477.5" r="1.05"/><circle cx="504.4" cy="473.0" r="1.05"/><circle cx="546.1" cy="447.3" r="1.05"/><circle cx="539.9" cy="461.1" r="1.05"/><circle cx="539.9" cy="452.7" r="1.05"/><circle cx="561.7" cy="440.4" r="1.05"/><circle cx="520.4" cy="519.6" r="1.05"/><circle cx="514.3" cy="467.6" r="1.05"/><circle cx="544.9" cy="469.8" r="1.05"/><circle cx="534.6" cy="506.3" r="1.05"/><circle cx="501.5" cy="484.1" r="1.05"/><circle cx="532.2" cy="483.7" r="1.05"/><circle cx="533.1" cy="469.0" r="1.05"/><circle cx="532.3" cy="483.7" r="1.05"/><circle cx="535.7" cy="464.6" r="1.05"/><circle cx="511.0" cy="505.6" r="1.05"/><circle cx="519.3" cy="513.8" r="1.05"/><circle cx="505.0" cy="511.1" r="1.05"/><circle cx="528.3" cy="523.6" r="1.05"/><circle cx="513.0" cy="499.2" r="1.05"/><circle cx="525.7" cy="502.0" r="1.05"/><circle cx="526.3" cy="461.4" r="1.05"/><circle cx="530.7" cy="458.2" r="1.05"/><circle cx="522.7" cy="466.0" r="1.05"/><circle cx="543.8" cy="472.8" r="1.05"/><circle cx="548.3" cy="477.5" r="1.05"/><circle cx="532.9" cy="515.9" r="1.05"/><circle cx="529.1" cy="492.7" r="1.05"/><circle cx="556.3" cy="455.1" r="1.05"/><circle cx="548.5" cy="459.5" r="1.05"/><circle cx="540.3" cy="451.6" r="1.05"/><circle cx="550.7" cy="450.6" r="1.05"/><circle cx="516.1" cy="512.9" r="1.05"/><circle cx="544.7" cy="457.9" r="1.05"/><circle cx="523.8" cy="464.6" r="1.05"/><circle cx="532.8" cy="473.5" r="1.05"/><circle cx="552.2" cy="458.1" r="1.05"/><circle cx="557.4" cy="448.5" r="1.05"/><circle cx="559.9" cy="450.2" r="1.05"/><circle cx="521.5" cy="476.7" r="1.05"/><circle cx="526.3" cy="485.9" r="1.05"/><circle cx="532.8" cy="511.8" r="1.05"/><circle cx="557.4" cy="462.7" r="1.05"/><circle cx="536.6" cy="487.8" r="1.05"/><circle cx="542.5" cy="480.2" r="1.05"/><circle cx="508.3" cy="484.3" r="1.05"/><circle cx="525.4" cy="466.8" r="1.05"/><circle cx="501.9" cy="489.6" r="1.05"/><circle cx="533.0" cy="470.7" r="1.05"/><circle cx="538.6" cy="480.2" r="1.05"/><circle cx="552.5" cy="459.1" r="1.05"/><circle cx="552.8" cy="468.8" r="1.05"/><circle cx="522.2" cy="507.2" r="1.05"/><circle cx="515.9" cy="497.9" r="1.05"/><circle cx="536.9" cy="483.0" r="1.05"/><circle cx="522.9" cy="530.5" r="1.05"/><circle cx="525.6" cy="517.4" r="1.05"/><circle cx="518.8" cy="467.7" r="1.05"/><circle cx="522.0" cy="487.1" r="1.05"/><circle cx="524.6" cy="471.1" r="1.05"/><circle cx="526.0" cy="469.6" r="1.05"/><circle cx="544.0" cy="465.6" r="1.05"/><circle cx="546.5" cy="473.8" r="1.05"/><circle cx="535.9" cy="471.3" r="1.05"/><circle cx="542.1" cy="463.8" r="1.05"/><circle cx="529.4" cy="463.8" r="1.05"/><circle cx="541.2" cy="485.3" r="1.05"/><circle cx="538.6" cy="467.3" r="1.05"/><circle cx="530.2" cy="472.7" r="1.05"/><circle cx="557.3" cy="461.7" r="1.05"/><circle cx="519.1" cy="467.0" r="1.05"/><circle cx="550.3" cy="461.7" r="1.05"/><circle cx="520.6" cy="511.1" r="1.05"/><circle cx="541.2" cy="468.7" r="1.05"/><circle cx="548.1" cy="459.2" r="1.05"/><circle cx="546.5" cy="485.6" r="1.05"/><circle cx="553.9" cy="476.5" r="1.05"/><circle cx="509.2" cy="479.0" r="1.05"/><circle cx="510.7" cy="520.0" r="1.05"/><circle cx="506.4" cy="511.0" r="1.05"/><circle cx="536.4" cy="507.1" r="1.05"/><circle cx="520.8" cy="517.9" r="1.05"/><circle cx="530.1" cy="482.2" r="1.05"/><circle cx="554.0" cy="474.7" r="1.05"/><circle cx="524.6" cy="490.9" r="1.05"/><circle cx="508.9" cy="492.2" r="1.05"/><circle cx="553.4" cy="463.8" r="1.05"/><circle cx="544.8" cy="447.6" r="1.05"/><circle cx="504.4" cy="497.1" r="1.05"/><circle cx="529.9" cy="501.3" r="1.05"/><circle cx="528.5" cy="528.3" r="1.05"/><circle cx="558.8" cy="448.5" r="1.05"/><circle cx="540.6" cy="491.4" r="1.05"/><circle cx="542.3" cy="469.1" r="1.05"/><circle cx="531.0" cy="524.5" r="1.05"/><circle cx="544.2" cy="483.0" r="1.05"/><circle cx="531.5" cy="456.3" r="1.05"/><circle cx="552.3" cy="461.3" r="1.05"/><circle cx="530.6" cy="497.7" r="1.05"/><circle cx="548.8" cy="449.2" r="1.05"/><circle cx="549.9" cy="463.2" r="1.05"/><circle cx="542.4" cy="478.1" r="1.05"/><circle cx="527.0" cy="486.0" r="1.05"/><circle cx="520.3" cy="497.0" r="1.05"/><circle cx="522.3" cy="471.6" r="1.05"/><circle cx="521.8" cy="512.0" r="1.05"/><circle cx="526.7" cy="467.5" r="1.05"/><circle cx="541.8" cy="447.5" r="1.05"/><circle cx="500.7" cy="518.1" r="1.05"/><circle cx="548.3" cy="448.2" r="1.05"/><circle cx="553.2" cy="456.9" r="1.05"/><circle cx="512.6" cy="505.3" r="1.05"/><circle cx="480.8" cy="506.7" r="1.05"/><circle cx="542.2" cy="471.7" r="1.05"/><circle cx="539.8" cy="465.3" r="1.05"/><circle cx="478.1" cy="509.0" r="1.05"/><circle cx="540.5" cy="498.1" r="1.05"/><circle cx="521.5" cy="471.2" r="1.05"/><circle cx="530.0" cy="502.2" r="1.05"/><circle cx="520.5" cy="474.2" r="1.05"/><circle cx="531.6" cy="512.7" r="1.05"/><circle cx="526.6" cy="519.1" r="1.05"/><circle cx="528.5" cy="492.2" r="1.05"/><circle cx="533.3" cy="506.9" r="1.05"/><circle cx="546.9" cy="471.1" r="1.05"/><circle cx="511.2" cy="481.6" r="1.05"/><circle cx="526.7" cy="526.8" r="1.05"/><circle cx="555.2" cy="466.4" r="1.05"/><circle cx="516.0" cy="469.7" r="1.05"/><circle cx="540.4" cy="469.2" r="1.05"/><circle cx="485.5" cy="512.2" r="1.05"/><circle cx="483.0" cy="503.8" r="1.05"/><circle cx="531.4" cy="510.7" r="1.05"/><circle cx="534.9" cy="510.4" r="1.05"/><circle cx="552.1" cy="462.7" r="1.05"/><circle cx="560.0" cy="457.4" r="1.05"/><circle cx="523.3" cy="494.0" r="1.05"/><circle cx="516.1" cy="517.7" r="1.05"/><circle cx="519.2" cy="514.1" r="1.05"/><circle cx="539.0" cy="500.8" r="1.05"/><circle cx="525.3" cy="468.0" r="1.05"/><circle cx="546.5" cy="488.9" r="1.05"/><circle cx="530.9" cy="525.0" r="1.05"/><circle cx="524.1" cy="517.5" r="1.05"/><circle cx="529.1" cy="522.0" r="1.05"/><circle cx="527.2" cy="461.1" r="1.05"/><circle cx="511.8" cy="515.4" r="1.05"/><circle cx="527.2" cy="517.7" r="1.05"/><circle cx="547.2" cy="462.6" r="1.05"/><circle cx="553.8" cy="464.0" r="1.05"/><circle cx="524.8" cy="486.4" r="1.05"/><circle cx="524.3" cy="500.2" r="1.05"/><circle cx="542.9" cy="475.8" r="1.05"/><circle cx="552.9" cy="443.0" r="1.05"/><circle cx="490.6" cy="511.1" r="1.05"/><circle cx="522.4" cy="516.8" r="1.05"/><circle cx="542.1" cy="474.0" r="1.05"/><circle cx="531.3" cy="470.2" r="1.05"/><circle cx="506.2" cy="471.6" r="1.05"/><circle cx="535.7" cy="463.3" r="1.05"/><circle cx="539.3" cy="472.2" r="1.05"/><circle cx="513.5" cy="479.5" r="1.05"/><circle cx="538.8" cy="492.3" r="1.05"/><circle cx="538.0" cy="497.7" r="1.05"/><circle cx="494.0" cy="515.7" r="1.05"/><circle cx="531.6" cy="500.7" r="1.05"/><circle cx="490.6" cy="487.3" r="1.05"/><circle cx="509.0" cy="468.3" r="1.05"/><circle cx="529.2" cy="477.7" r="1.05"/><circle cx="539.0" cy="457.1" r="1.05"/><circle cx="535.2" cy="495.0" r="1.05"/><circle cx="522.6" cy="507.4" r="1.05"/><circle cx="529.8" cy="523.5" r="1.05"/><circle cx="533.1" cy="507.9" r="1.05"/><circle cx="515.8" cy="480.1" r="1.05"/><circle cx="539.9" cy="488.8" r="1.05"/><circle cx="538.5" cy="484.3" r="1.05"/><circle cx="551.0" cy="448.6" r="1.05"/><circle cx="522.4" cy="514.3" r="1.05"/><circle cx="516.4" cy="500.7" r="1.05"/><circle cx="536.7" cy="486.0" r="1.05"/><circle cx="525.8" cy="526.2" r="1.05"/><circle cx="520.6" cy="478.3" r="1.05"/><circle cx="546.0" cy="490.9" r="1.05"/><circle cx="529.6" cy="487.5" r="1.05"/><circle cx="525.4" cy="531.4" r="1.05"/><circle cx="550.1" cy="442.0" r="1.05"/><circle cx="546.2" cy="487.1" r="1.05"/><circle cx="533.1" cy="479.8" r="1.05"/><circle cx="530.2" cy="508.2" r="1.05"/><circle cx="557.0" cy="446.8" r="1.05"/><circle cx="543.5" cy="471.9" r="1.05"/><circle cx="527.4" cy="479.9" r="1.05"/><circle cx="501.8" cy="488.0" r="1.05"/><circle cx="527.6" cy="492.0" r="1.05"/><circle cx="511.2" cy="495.9" r="1.05"/><circle cx="538.6" cy="501.0" r="1.05"/><circle cx="516.5" cy="466.1" r="1.05"/><circle cx="517.9" cy="500.6" r="1.05"/><circle cx="545.8" cy="452.7" r="1.05"/><circle cx="538.8" cy="495.8" r="1.05"/><circle cx="525.1" cy="502.2" r="1.05"/><circle cx="516.6" cy="480.9" r="1.05"/><circle cx="559.2" cy="449.8" r="1.05"/><circle cx="534.0" cy="508.7" r="1.05"/><circle cx="535.8" cy="493.0" r="1.05"/><circle cx="513.9" cy="512.1" r="1.05"/><circle cx="513.4" cy="507.4" r="1.05"/><circle cx="524.9" cy="474.3" r="1.05"/><circle cx="519.9" cy="485.1" r="1.05"/><circle cx="556.8" cy="465.2" r="1.05"/><circle cx="544.8" cy="450.9" r="1.05"/><circle cx="542.6" cy="483.6" r="1.05"/><circle cx="548.9" cy="446.6" r="1.05"/><circle cx="535.7" cy="477.2" r="1.05"/><circle cx="534.2" cy="508.0" r="1.05"/><circle cx="554.5" cy="450.6" r="1.05"/><circle cx="529.0" cy="524.2" r="1.05"/><circle cx="560.6" cy="446.2" r="1.05"/><circle cx="489.1" cy="491.1" r="1.05"/><circle cx="521.4" cy="512.7" r="1.05"/><circle cx="528.9" cy="486.4" r="1.05"/><circle cx="514.7" cy="466.9" r="1.05"/><circle cx="540.1" cy="491.5" r="1.05"/><circle cx="529.9" cy="486.6" r="1.05"/><circle cx="536.4" cy="475.8" r="1.05"/><circle cx="548.9" cy="442.4" r="1.05"/><circle cx="518.0" cy="519.0" r="1.05"/><circle cx="542.6" cy="454.1" r="1.05"/><circle cx="558.7" cy="440.6" r="1.05"/><circle cx="552.1" cy="454.2" r="1.05"/><circle cx="520.3" cy="503.2" r="1.05"/><circle cx="523.4" cy="522.7" r="1.05"/><circle cx="522.9" cy="520.3" r="1.05"/><circle cx="526.5" cy="518.7" r="1.05"/><circle cx="545.9" cy="467.6" r="1.05"/><circle cx="550.3" cy="464.4" r="1.05"/><circle cx="526.4" cy="459.9" r="1.05"/><circle cx="527.2" cy="491.0" r="1.05"/><circle cx="523.0" cy="510.2" r="1.05"/><circle cx="505.7" cy="489.4" r="1.05"/><circle cx="554.6" cy="472.5" r="1.05"/><circle cx="557.8" cy="444.5" r="1.05"/><circle cx="545.6" cy="467.5" r="1.05"/><circle cx="551.2" cy="470.0" r="1.05"/><circle cx="549.1" cy="451.6" r="1.05"/><circle cx="528.5" cy="526.2" r="1.05"/><circle cx="547.9" cy="461.5" r="1.05"/><circle cx="527.3" cy="491.5" r="1.05"/><circle cx="540.9" cy="466.8" r="1.05"/><circle cx="513.2" cy="507.0" r="1.05"/><circle cx="527.6" cy="493.9" r="1.05"/><circle cx="546.8" cy="466.7" r="1.05"/><circle cx="536.9" cy="491.4" r="1.05"/><circle cx="524.3" cy="484.0" r="1.05"/><circle cx="533.4" cy="483.5" r="1.05"/><circle cx="557.6" cy="460.1" r="1.05"/><circle cx="542.4" cy="452.0" r="1.05"/><circle cx="520.0" cy="494.9" r="1.05"/><circle cx="496.7" cy="491.8" r="1.05"/><circle cx="551.1" cy="452.4" r="1.05"/><circle cx="525.4" cy="507.3" r="1.05"/><circle cx="522.9" cy="491.1" r="1.05"/><circle cx="539.3" cy="475.0" r="1.05"/><circle cx="533.9" cy="469.1" r="1.05"/><circle cx="513.0" cy="466.7" r="1.05"/><circle cx="506.0" cy="485.0" r="1.05"/><circle cx="504.6" cy="489.1" r="1.05"/><circle cx="522.3" cy="525.9" r="1.05"/><circle cx="525.7" cy="473.2" r="1.05"/><circle cx="523.1" cy="517.7" r="1.05"/><circle cx="529.4" cy="501.1" r="1.05"/><circle cx="512.4" cy="519.0" r="1.05"/><circle cx="525.2" cy="489.2" r="1.05"/><circle cx="514.8" cy="488.3" r="1.05"/><circle cx="542.4" cy="482.4" r="1.05"/><circle cx="532.5" cy="460.5" r="1.05"/><circle cx="548.1" cy="444.5" r="1.05"/><circle cx="547.9" cy="480.0" r="1.05"/><circle cx="551.7" cy="471.4" r="1.05"/><circle cx="537.7" cy="468.1" r="1.05"/><circle cx="550.7" cy="464.9" r="1.05"/><circle cx="552.1" cy="443.1" r="1.05"/><circle cx="561.0" cy="449.0" r="1.05"/><circle cx="549.0" cy="442.9" r="1.05"/><circle cx="533.6" cy="494.1" r="1.05"/><circle cx="540.6" cy="469.9" r="1.05"/><circle cx="555.6" cy="454.2" r="1.05"/><circle cx="516.2" cy="472.5" r="1.05"/><circle cx="538.4" cy="498.2" r="1.05"/><circle cx="548.9" cy="463.1" r="1.05"/><circle cx="521.4" cy="524.7" r="1.05"/><circle cx="527.8" cy="496.6" r="1.05"/><circle cx="528.4" cy="534.2" r="1.05"/><circle cx="546.6" cy="449.2" r="1.05"/><circle cx="526.8" cy="519.4" r="1.05"/><circle cx="528.4" cy="493.0" r="1.05"/><circle cx="550.7" cy="454.5" r="1.05"/><circle cx="526.0" cy="492.7" r="1.05"/><circle cx="520.2" cy="518.5" r="1.05"/><circle cx="558.5" cy="448.2" r="1.05"/><circle cx="495.7" cy="482.5" r="1.05"/><circle cx="496.7" cy="518.9" r="1.05"/><circle cx="527.2" cy="492.8" r="1.05"/><circle cx="560.7" cy="444.9" r="1.05"/><circle cx="481.3" cy="507.5" r="1.05"/><circle cx="518.2" cy="471.3" r="1.05"/><circle cx="483.4" cy="515.3" r="1.05"/><circle cx="542.8" cy="482.4" r="1.05"/><circle cx="555.9" cy="465.8" r="1.05"/><circle cx="532.0" cy="488.4" r="1.05"/><circle cx="543.1" cy="493.2" r="1.05"/><circle cx="525.1" cy="531.4" r="1.05"/><circle cx="550.0" cy="459.8" r="1.05"/><circle cx="529.6" cy="476.5" r="1.05"/><circle cx="549.8" cy="469.7" r="1.05"/><circle cx="540.7" cy="484.6" r="1.05"/><circle cx="522.7" cy="469.9" r="1.05"/><circle cx="550.0" cy="464.1" r="1.05"/><circle cx="489.8" cy="509.3" r="1.05"/><circle cx="527.9" cy="463.2" r="1.05"/><circle cx="546.1" cy="471.1" r="1.05"/><circle cx="521.8" cy="515.5" r="1.05"/><circle cx="524.2" cy="479.1" r="1.05"/><circle cx="549.2" cy="486.1" r="1.05"/><circle cx="541.8" cy="497.5" r="1.05"/><circle cx="544.6" cy="449.0" r="1.05"/><circle cx="531.4" cy="522.9" r="1.05"/><circle cx="533.8" cy="476.6" r="1.05"/><circle cx="528.5" cy="494.5" r="1.05"/><circle cx="527.3" cy="493.2" r="1.05"/><circle cx="537.8" cy="487.3" r="1.05"/><circle cx="514.8" cy="514.4" r="1.05"/><circle cx="554.6" cy="463.1" r="1.05"/><circle cx="533.4" cy="455.5" r="1.05"/><circle cx="501.9" cy="506.3" r="1.05"/><circle cx="525.2" cy="464.9" r="1.05"/><circle cx="559.3" cy="454.8" r="1.05"/><circle cx="536.3" cy="458.2" r="1.05"/><circle cx="527.0" cy="518.6" r="1.05"/><circle cx="550.9" cy="461.6" r="1.05"/><circle cx="542.7" cy="452.3" r="1.05"/><circle cx="530.7" cy="498.3" r="1.05"/><circle cx="507.3" cy="477.6" r="1.05"/><circle cx="504.9" cy="502.3" r="1.05"/><circle cx="527.2" cy="526.2" r="1.05"/><circle cx="546.9" cy="446.3" r="1.05"/><circle cx="536.1" cy="495.5" r="1.05"/><circle cx="519.9" cy="481.2" r="1.05"/><circle cx="531.8" cy="507.3" r="1.05"/><circle cx="527.2" cy="477.5" r="1.05"/><circle cx="514.9" cy="510.8" r="1.05"/><circle cx="556.9" cy="439.9" r="1.05"/><circle cx="559.4" cy="448.5" r="1.05"/><circle cx="526.4" cy="532.1" r="1.05"/><circle cx="557.7" cy="456.9" r="1.05"/><circle cx="524.5" cy="470.6" r="1.05"/><circle cx="539.9" cy="486.8" r="1.05"/><circle cx="538.1" cy="457.4" r="1.05"/><circle cx="553.7" cy="477.7" r="1.05"/><circle cx="519.9" cy="487.9" r="1.05"/><circle cx="517.1" cy="474.0" r="1.05"/><circle cx="538.6" cy="490.2" r="1.05"/><circle cx="535.0" cy="463.7" r="1.05"/><circle cx="539.1" cy="457.5" r="1.05"/><circle cx="547.3" cy="453.6" r="1.05"/><circle cx="539.9" cy="489.2" r="1.05"/><circle cx="531.9" cy="499.8" r="1.05"/><circle cx="523.0" cy="501.8" r="1.05"/><circle cx="535.8" cy="503.6" r="1.05"/><circle cx="498.6" cy="498.9" r="1.05"/><circle cx="531.9" cy="477.7" r="1.05"/><circle cx="540.5" cy="454.2" r="1.05"/><circle cx="556.1" cy="464.3" r="1.05"/><circle cx="553.0" cy="459.4" r="1.05"/><circle cx="523.9" cy="532.3" r="1.05"/><circle cx="523.1" cy="521.9" r="1.05"/><circle cx="525.1" cy="487.2" r="1.05"/><circle cx="547.9" cy="483.8" r="1.05"/><circle cx="545.4" cy="448.4" r="1.05"/><circle cx="531.8" cy="485.8" r="1.05"/><circle cx="558.6" cy="444.9" r="1.05"/><circle cx="552.0" cy="468.7" r="1.05"/><circle cx="480.9" cy="512.3" r="1.05"/><circle cx="536.3" cy="451.6" r="1.05"/><circle cx="554.3" cy="447.7" r="1.05"/><circle cx="483.4" cy="505.7" r="1.05"/><circle cx="554.0" cy="450.8" r="1.05"/><circle cx="509.0" cy="512.2" r="1.05"/><circle cx="500.5" cy="491.5" r="1.05"/><circle cx="508.4" cy="490.2" r="1.05"/><circle cx="511.1" cy="520.0" r="1.05"/><circle cx="555.2" cy="460.7" r="1.05"/><circle cx="519.8" cy="490.6" r="1.05"/><circle cx="551.5" cy="443.8" r="1.05"/><circle cx="536.0" cy="499.4" r="1.05"/><circle cx="521.4" cy="497.3" r="1.05"/><circle cx="484.3" cy="506.0" r="1.05"/><circle cx="539.3" cy="470.7" r="1.05"/><circle cx="548.2" cy="474.1" r="1.05"/><circle cx="536.1" cy="453.1" r="1.05"/><circle cx="520.7" cy="471.1" r="1.05"/><circle cx="515.5" cy="516.7" r="1.05"/><circle cx="557.5" cy="449.3" r="1.05"/><circle cx="514.8" cy="516.0" r="1.05"/><circle cx="532.3" cy="465.1" r="1.05"/><circle cx="523.0" cy="501.2" r="1.05"/><circle cx="528.4" cy="475.2" r="1.05"/><circle cx="536.0" cy="478.6" r="1.05"/><circle cx="546.5" cy="469.0" r="1.05"/><circle cx="520.8" cy="517.1" r="1.05"/><circle cx="535.6" cy="478.8" r="1.05"/><circle cx="533.9" cy="475.6" r="1.05"/><circle cx="512.4" cy="478.2" r="1.05"/><circle cx="539.4" cy="464.9" r="1.05"/><circle cx="538.9" cy="491.4" r="1.05"/><circle cx="514.4" cy="510.1" r="1.05"/><circle cx="528.8" cy="478.7" r="1.05"/><circle cx="531.8" cy="490.4" r="1.05"/><circle cx="556.7" cy="461.9" r="1.05"/><circle cx="548.1" cy="454.0" r="1.05"/><circle cx="556.1" cy="439.8" r="1.05"/><circle cx="536.4" cy="487.3" r="1.05"/><circle cx="526.1" cy="470.0" r="1.05"/><circle cx="513.2" cy="507.2" r="1.05"/><circle cx="507.7" cy="476.7" r="1.05"/><circle cx="513.1" cy="466.3" r="1.05"/><circle cx="525.6" cy="514.6" r="1.05"/><circle cx="513.1" cy="488.0" r="1.05"/><circle cx="521.0" cy="482.5" r="1.05"/><circle cx="551.8" cy="469.3" r="1.05"/><circle cx="527.0" cy="483.3" r="1.05"/><circle cx="544.7" cy="493.5" r="1.05"/><circle cx="554.8" cy="466.7" r="1.05"/><circle cx="549.6" cy="447.9" r="1.05"/><circle cx="535.7" cy="482.1" r="1.05"/><circle cx="523.0" cy="504.3" r="1.05"/><circle cx="513.2" cy="515.2" r="1.05"/><circle cx="513.3" cy="475.7" r="1.05"/><circle cx="492.5" cy="512.4" r="1.05"/><circle cx="542.9" cy="474.2" r="1.05"/><circle cx="521.4" cy="473.5" r="1.05"/><circle cx="526.8" cy="523.5" r="1.05"/><circle cx="525.5" cy="502.8" r="1.05"/><circle cx="513.5" cy="509.7" r="1.05"/><circle cx="511.1" cy="518.4" r="1.05"/><circle cx="510.3" cy="479.6" r="1.05"/><circle cx="534.2" cy="479.2" r="1.05"/><circle cx="542.3" cy="477.1" r="1.05"/><circle cx="551.8" cy="476.6" r="1.05"/><circle cx="541.0" cy="467.6" r="1.05"/><circle cx="548.6" cy="472.2" r="1.05"/><circle cx="507.8" cy="471.9" r="1.05"/><circle cx="528.3" cy="530.1" r="1.05"/><circle cx="530.9" cy="478.9" r="1.05"/><circle cx="545.4" cy="491.9" r="1.05"/><circle cx="528.2" cy="526.1" r="1.05"/><circle cx="527.7" cy="531.2" r="1.05"/><circle cx="530.9" cy="472.2" r="1.05"/><circle cx="542.9" cy="493.8" r="1.05"/><circle cx="512.5" cy="477.4" r="1.05"/><circle cx="521.2" cy="463.1" r="1.05"/><circle cx="527.2" cy="494.9" r="1.05"/><circle cx="540.1" cy="456.3" r="1.05"/><circle cx="523.9" cy="490.6" r="1.05"/><circle cx="526.2" cy="497.7" r="1.05"/><circle cx="521.6" cy="468.6" r="1.05"/><circle cx="486.3" cy="509.9" r="1.05"/><circle cx="531.7" cy="475.3" r="1.05"/><circle cx="521.8" cy="519.2" r="1.05"/><circle cx="510.7" cy="510.0" r="1.05"/><circle cx="543.4" cy="474.4" r="1.05"/><circle cx="529.2" cy="523.0" r="1.05"/><circle cx="528.2" cy="526.5" r="1.05"/><circle cx="540.9" cy="454.3" r="1.05"/><circle cx="532.5" cy="482.1" r="1.05"/><circle cx="553.1" cy="480.6" r="1.05"/><circle cx="518.5" cy="521.0" r="1.05"/><circle cx="484.1" cy="520.5" r="1.05"/><circle cx="531.5" cy="522.9" r="1.05"/><circle cx="523.8" cy="511.3" r="1.05"/><circle cx="550.4" cy="482.2" r="1.05"/><circle cx="540.0" cy="479.3" r="1.05"/><circle cx="551.1" cy="455.9" r="1.05"/><circle cx="541.7" cy="488.1" r="1.05"/><circle cx="521.5" cy="506.4" r="1.05"/><circle cx="526.1" cy="476.7" r="1.05"/><circle cx="546.2" cy="483.2" r="1.05"/><circle cx="524.3" cy="479.7" r="1.05"/><circle cx="544.2" cy="466.2" r="1.05"/><circle cx="527.7" cy="471.6" r="1.05"/><circle cx="539.9" cy="477.2" r="1.05"/><circle cx="539.4" cy="448.1" r="1.05"/><circle cx="486.7" cy="496.1" r="1.05"/><circle cx="546.6" cy="456.6" r="1.05"/><circle cx="528.5" cy="466.8" r="1.05"/><circle cx="540.5" cy="463.5" r="1.05"/><circle cx="549.0" cy="475.8" r="1.05"/><circle cx="538.7" cy="502.0" r="1.05"/><circle cx="534.0" cy="484.2" r="1.05"/><circle cx="521.5" cy="523.8" r="1.05"/><circle cx="524.8" cy="519.7" r="1.05"/><circle cx="527.9" cy="532.9" r="1.05"/><circle cx="520.8" cy="525.7" r="1.05"/><circle cx="549.8" cy="450.9" r="1.05"/><circle cx="506.9" cy="502.9" r="1.05"/><circle cx="526.5" cy="464.8" r="1.05"/><circle cx="536.6" cy="482.7" r="1.05"/><circle cx="510.4" cy="502.2" r="1.05"/><circle cx="561.5" cy="443.2" r="1.05"/><circle cx="511.6" cy="523.3" r="1.05"/><circle cx="522.0" cy="529.6" r="1.05"/><circle cx="516.5" cy="480.0" r="1.05"/><circle cx="552.2" cy="474.3" r="1.05"/><circle cx="529.4" cy="472.2" r="1.05"/><circle cx="559.6" cy="442.0" r="1.05"/><circle cx="527.4" cy="464.1" r="1.05"/><circle cx="523.4" cy="510.5" r="1.05"/><circle cx="548.9" cy="474.4" r="1.05"/><circle cx="503.6" cy="486.0" r="1.05"/><circle cx="537.7" cy="504.2" r="1.05"/><circle cx="550.5" cy="451.7" r="1.05"/><circle cx="525.1" cy="473.6" r="1.05"/><circle cx="526.6" cy="508.8" r="1.05"/><circle cx="531.2" cy="502.3" r="1.05"/><circle cx="536.7" cy="508.1" r="1.05"/><circle cx="535.6" cy="489.3" r="1.05"/><circle cx="548.8" cy="446.0" r="1.05"/><circle cx="546.8" cy="469.1" r="1.05"/><circle cx="542.0" cy="479.4" r="1.05"/><circle cx="551.4" cy="460.9" r="1.05"/><circle cx="544.0" cy="488.0" r="1.05"/><circle cx="548.2" cy="467.3" r="1.05"/><circle cx="522.3" cy="522.7" r="1.05"/><circle cx="531.0" cy="501.1" r="1.05"/><circle cx="557.5" cy="450.4" r="1.05"/><circle cx="561.7" cy="444.6" r="1.05"/><circle cx="541.1" cy="454.3" r="1.05"/><circle cx="535.7" cy="498.4" r="1.05"/><circle cx="513.4" cy="468.6" r="1.05"/><circle cx="526.9" cy="494.3" r="1.05"/><circle cx="487.1" cy="498.9" r="1.05"/><circle cx="558.0" cy="457.5" r="1.05"/><circle cx="533.0" cy="462.9" r="1.05"/><circle cx="509.7" cy="501.6" r="1.05"/><circle cx="556.3" cy="457.3" r="1.05"/><circle cx="510.0" cy="475.4" r="1.05"/><circle cx="521.3" cy="517.4" r="1.05"/><circle cx="542.4" cy="470.7" r="1.05"/><circle cx="529.6" cy="502.3" r="1.05"/><circle cx="521.8" cy="524.3" r="1.05"/><circle cx="554.8" cy="453.2" r="1.05"/><circle cx="529.7" cy="482.0" r="1.05"/><circle cx="538.9" cy="483.7" r="1.05"/><circle cx="553.4" cy="445.4" r="1.05"/><circle cx="519.0" cy="473.3" r="1.05"/><circle cx="535.3" cy="497.4" r="1.05"/><circle cx="543.3" cy="466.2" r="1.05"/><circle cx="542.8" cy="478.1" r="1.05"/><circle cx="543.1" cy="462.5" r="1.05"/><circle cx="538.3" cy="478.8" r="1.05"/><circle cx="531.6" cy="521.8" r="1.05"/><circle cx="529.1" cy="464.5" r="1.05"/><circle cx="531.7" cy="493.8" r="1.05"/><circle cx="538.4" cy="450.2" r="1.05"/><circle cx="537.4" cy="471.6" r="1.05"/><circle cx="530.3" cy="507.6" r="1.05"/><circle cx="535.7" cy="474.7" r="1.05"/><circle cx="523.2" cy="527.5" r="1.05"/><circle cx="540.0" cy="458.7" r="1.05"/><circle cx="528.2" cy="458.9" r="1.05"/><circle cx="554.9" cy="462.5" r="1.05"/><circle cx="538.4" cy="471.5" r="1.05"/><circle cx="531.3" cy="479.8" r="1.05"/><circle cx="521.7" cy="528.9" r="1.05"/><circle cx="499.8" cy="491.2" r="1.05"/><circle cx="549.2" cy="459.5" r="1.05"/><circle cx="534.4" cy="481.8" r="1.05"/><circle cx="526.6" cy="486.4" r="1.05"/><circle cx="524.9" cy="508.7" r="1.05"/><circle cx="528.7" cy="475.1" r="1.05"/><circle cx="535.9" cy="479.3" r="1.05"/><circle cx="535.7" cy="483.4" r="1.05"/><circle cx="552.2" cy="470.2" r="1.05"/><circle cx="535.8" cy="456.0" r="1.05"/><circle cx="518.2" cy="486.3" r="1.05"/><circle cx="556.1" cy="455.4" r="1.05"/><circle cx="556.6" cy="448.1" r="1.05"/><circle cx="540.9" cy="497.2" r="1.05"/><circle cx="520.8" cy="507.5" r="1.05"/><circle cx="527.1" cy="523.1" r="1.05"/><circle cx="561.7" cy="440.5" r="1.05"/><circle cx="510.8" cy="510.4" r="1.05"/><circle cx="522.5" cy="483.7" r="1.05"/><circle cx="524.5" cy="476.8" r="1.05"/><circle cx="520.2" cy="494.5" r="1.05"/><circle cx="527.8" cy="488.2" r="1.05"/><circle cx="535.0" cy="467.9" r="1.05"/><circle cx="531.4" cy="469.9" r="1.05"/><circle cx="508.9" cy="467.7" r="1.05"/><circle cx="526.7" cy="500.6" r="1.05"/><circle cx="506.6" cy="508.3" r="1.05"/><circle cx="545.6" cy="480.6" r="1.05"/><circle cx="521.8" cy="514.7" r="1.05"/><circle cx="539.0" cy="481.6" r="1.05"/><circle cx="506.2" cy="473.2" r="1.05"/><circle cx="495.9" cy="511.2" r="1.05"/><circle cx="531.4" cy="483.9" r="1.05"/><circle cx="550.1" cy="465.9" r="1.05"/><circle cx="536.7" cy="453.3" r="1.05"/><circle cx="525.9" cy="478.2" r="1.05"/><circle cx="525.0" cy="511.1" r="1.05"/><circle cx="508.1" cy="472.7" r="1.05"/><circle cx="545.5" cy="460.3" r="1.05"/><circle cx="484.6" cy="521.2" r="1.05"/><circle cx="521.3" cy="480.5" r="1.05"/><circle cx="526.8" cy="503.4" r="1.05"/><circle cx="552.7" cy="467.8" r="1.05"/><circle cx="559.9" cy="448.4" r="1.05"/><circle cx="538.4" cy="486.0" r="1.05"/><circle cx="495.3" cy="518.7" r="1.05"/><circle cx="505.9" cy="491.1" r="1.05"/><circle cx="535.0" cy="474.4" r="1.05"/><circle cx="538.4" cy="450.0" r="1.05"/><circle cx="524.6" cy="529.1" r="1.05"/><circle cx="504.4" cy="500.6" r="1.05"/><circle cx="558.5" cy="455.8" r="1.05"/><circle cx="556.7" cy="453.2" r="1.05"/><circle cx="532.6" cy="479.7" r="1.05"/><circle cx="475.4" cy="507.1" r="1.05"/><circle cx="536.9" cy="479.9" r="1.05"/><circle cx="540.1" cy="470.1" r="1.05"/><circle cx="515.9" cy="505.0" r="1.05"/><circle cx="552.6" cy="460.1" r="1.05"/><circle cx="524.6" cy="522.2" r="1.05"/><circle cx="520.2" cy="471.6" r="1.05"/><circle cx="504.3" cy="476.9" r="1.05"/><circle cx="526.3" cy="464.8" r="1.05"/><circle cx="526.7" cy="519.7" r="1.05"/><circle cx="520.8" cy="502.3" r="1.05"/><circle cx="516.8" cy="515.5" r="1.05"/><circle cx="532.2" cy="469.0" r="1.05"/><circle cx="531.3" cy="478.9" r="1.05"/><circle cx="514.9" cy="516.5" r="1.05"/><circle cx="547.4" cy="454.8" r="1.05"/><circle cx="540.9" cy="495.9" r="1.05"/><circle cx="541.5" cy="488.2" r="1.05"/><circle cx="547.4" cy="466.4" r="1.05"/><circle cx="551.4" cy="469.8" r="1.05"/><circle cx="541.5" cy="474.8" r="1.05"/><circle cx="524.9" cy="478.1" r="1.05"/><circle cx="540.3" cy="462.0" r="1.05"/><circle cx="512.8" cy="507.9" r="1.05"/><circle cx="547.3" cy="447.8" r="1.05"/><circle cx="482.5" cy="513.6" r="1.05"/><circle cx="551.8" cy="468.8" r="1.05"/><circle cx="541.3" cy="484.0" r="1.05"/><circle cx="528.7" cy="533.5" r="1.05"/><circle cx="527.8" cy="500.5" r="1.05"/><circle cx="557.5" cy="450.8" r="1.05"/><circle cx="528.6" cy="531.5" r="1.05"/><circle cx="511.3" cy="507.3" r="1.05"/><circle cx="536.3" cy="454.2" r="1.05"/><circle cx="540.6" cy="483.8" r="1.05"/><circle cx="510.9" cy="515.0" r="1.05"/><circle cx="526.1" cy="504.0" r="1.05"/><circle cx="513.3" cy="517.9" r="1.05"/><circle cx="526.9" cy="491.0" r="1.05"/><circle cx="534.8" cy="506.5" r="1.05"/><circle cx="531.9" cy="459.7" r="1.05"/><circle cx="542.0" cy="487.9" r="1.05"/><circle cx="527.6" cy="461.2" r="1.05"/><circle cx="528.4" cy="461.2" r="1.05"/><circle cx="524.4" cy="511.8" r="1.05"/><circle cx="549.5" cy="472.1" r="1.05"/><circle cx="550.0" cy="473.2" r="1.05"/><circle cx="535.7" cy="479.9" r="1.05"/><circle cx="557.2" cy="460.0" r="1.05"/><circle cx="521.8" cy="509.2" r="1.05"/><circle cx="542.5" cy="491.1" r="1.05"/><circle cx="552.3" cy="446.5" r="1.05"/><circle cx="532.5" cy="474.1" r="1.05"/><circle cx="527.2" cy="525.1" r="1.05"/><circle cx="529.3" cy="495.7" r="1.05"/><circle cx="532.9" cy="517.5" r="1.05"/><circle cx="529.1" cy="499.1" r="1.05"/><circle cx="539.1" cy="451.3" r="1.05"/><circle cx="557.0" cy="444.0" r="1.05"/><circle cx="530.1" cy="457.5" r="1.05"/><circle cx="480.0" cy="514.4" r="1.05"/><circle cx="505.8" cy="503.5" r="1.05"/><circle cx="535.4" cy="477.9" r="1.05"/><circle cx="537.3" cy="475.1" r="1.05"/><circle cx="509.9" cy="497.5" r="1.05"/><circle cx="492.0" cy="507.7" r="1.05"/><circle cx="542.4" cy="470.4" r="1.05"/><circle cx="543.0" cy="463.1" r="1.05"/><circle cx="551.1" cy="453.8" r="1.05"/><circle cx="550.7" cy="458.8" r="1.05"/><circle cx="523.2" cy="466.1" r="1.05"/><circle cx="530.8" cy="505.5" r="1.05"/><circle cx="548.1" cy="451.4" r="1.05"/><circle cx="536.5" cy="485.2" r="1.05"/><circle cx="533.2" cy="481.1" r="1.05"/><circle cx="547.8" cy="485.8" r="1.05"/><circle cx="551.2" cy="446.2" r="1.05"/><circle cx="476.0" cy="506.1" r="1.05"/><circle cx="555.1" cy="460.0" r="1.05"/><circle cx="523.6" cy="482.8" r="1.05"/><circle cx="531.5" cy="494.6" r="1.05"/><circle cx="517.6" cy="472.8" r="1.05"/><circle cx="539.3" cy="479.0" r="1.05"/><circle cx="528.1" cy="478.0" r="1.05"/><circle cx="546.4" cy="457.7" r="1.05"/><circle cx="500.9" cy="488.3" r="1.05"/><circle cx="482.6" cy="508.5" r="1.05"/><circle cx="536.1" cy="472.8" r="1.05"/><circle cx="529.2" cy="519.3" r="1.05"/><circle cx="521.1" cy="481.7" r="1.05"/><circle cx="546.2" cy="459.7" r="1.05"/><circle cx="555.5" cy="467.9" r="1.05"/><circle cx="489.9" cy="493.1" r="1.05"/><circle cx="520.5" cy="522.9" r="1.05"/><circle cx="487.7" cy="514.4" r="1.05"/><circle cx="520.2" cy="492.8" r="1.05"/><circle cx="510.1" cy="492.4" r="1.05"/><circle cx="515.3" cy="521.4" r="1.05"/><circle cx="537.5" cy="482.8" r="1.05"/><circle cx="520.1" cy="526.5" r="1.05"/><circle cx="536.1" cy="469.4" r="1.05"/><circle cx="523.3" cy="505.1" r="1.05"/><circle cx="559.4" cy="443.7" r="1.05"/><circle cx="557.5" cy="451.6" r="1.05"/><circle cx="557.2" cy="450.9" r="1.05"/><circle cx="547.6" cy="450.3" r="1.05"/><circle cx="528.7" cy="457.3" r="1.05"/><circle cx="538.5" cy="459.1" r="1.05"/><circle cx="544.3" cy="465.7" r="1.05"/><circle cx="528.0" cy="525.1" r="1.05"/><circle cx="534.9" cy="490.2" r="1.05"/><circle cx="547.0" cy="448.8" r="1.05"/><circle cx="521.6" cy="489.7" r="1.05"/><circle cx="521.7" cy="485.8" r="1.05"/><circle cx="528.4" cy="526.3" r="1.05"/><circle cx="549.6" cy="466.7" r="1.05"/><circle cx="492.6" cy="519.0" r="1.05"/><circle cx="534.9" cy="506.4" r="1.05"/><circle cx="548.8" cy="447.2" r="1.05"/><circle cx="512.8" cy="489.5" r="1.05"/><circle cx="533.6" cy="491.9" r="1.05"/><circle cx="518.3" cy="502.6" r="1.05"/><circle cx="530.9" cy="523.4" r="1.05"/><circle cx="536.8" cy="498.8" r="1.05"/><circle cx="528.5" cy="461.8" r="1.05"/><circle cx="494.9" cy="507.6" r="1.05"/><circle cx="534.3" cy="513.0" r="1.05"/><circle cx="550.1" cy="450.7" r="1.05"/><circle cx="524.2" cy="516.0" r="1.05"/><circle cx="529.4" cy="526.8" r="1.05"/><circle cx="528.7" cy="457.0" r="1.05"/><circle cx="513.3" cy="506.3" r="1.05"/><circle cx="525.1" cy="476.6" r="1.05"/><circle cx="532.5" cy="509.3" r="1.05"/><circle cx="529.9" cy="478.7" r="1.05"/><circle cx="535.8" cy="460.5" r="1.05"/><circle cx="548.9" cy="473.9" r="1.05"/><circle cx="537.6" cy="479.5" r="1.05"/><circle cx="546.8" cy="461.6" r="1.05"/><circle cx="530.0" cy="464.4" r="1.05"/><circle cx="523.9" cy="479.3" r="1.05"/><circle cx="530.3" cy="527.7" r="1.05"/><circle cx="533.7" cy="513.1" r="1.05"/><circle cx="544.9" cy="456.5" r="1.05"/><circle cx="554.5" cy="443.1" r="1.05"/><circle cx="536.5" cy="458.7" r="1.05"/><circle cx="524.8" cy="488.6" r="1.05"/><circle cx="519.2" cy="515.8" r="1.05"/><circle cx="522.0" cy="474.7" r="1.05"/><circle cx="525.6" cy="468.1" r="1.05"/><circle cx="559.8" cy="446.8" r="1.05"/><circle cx="529.3" cy="516.1" r="1.05"/><circle cx="549.9" cy="458.8" r="1.05"/><circle cx="543.7" cy="478.4" r="1.05"/><circle cx="560.4" cy="446.3" r="1.05"/><circle cx="534.8" cy="454.0" r="1.05"/><circle cx="514.8" cy="519.1" r="1.05"/><circle cx="526.0" cy="493.3" r="1.05"/><circle cx="531.7" cy="454.4" r="1.05"/><circle cx="553.3" cy="463.2" r="1.05"/><circle cx="530.4" cy="469.7" r="1.05"/><circle cx="525.5" cy="530.1" r="1.05"/><circle cx="506.5" cy="518.5" r="1.05"/><circle cx="530.1" cy="498.2" r="1.05"/><circle cx="522.4" cy="484.1" r="1.05"/><circle cx="532.2" cy="496.6" r="1.05"/><circle cx="530.4" cy="467.6" r="1.05"/><circle cx="545.1" cy="457.7" r="1.05"/><circle cx="535.9" cy="478.7" r="1.05"/><circle cx="551.1" cy="480.7" r="1.05"/><circle cx="538.3" cy="464.0" r="1.05"/><circle cx="521.1" cy="473.1" r="1.05"/><circle cx="532.3" cy="470.7" r="1.05"/><circle cx="536.0" cy="497.3" r="1.05"/><circle cx="550.4" cy="470.0" r="1.05"/><circle cx="538.5" cy="473.3" r="1.05"/><circle cx="549.8" cy="455.7" r="1.05"/><circle cx="508.8" cy="483.7" r="1.05"/><circle cx="548.2" cy="451.4" r="1.05"/><circle cx="560.5" cy="447.1" r="1.05"/><circle cx="561.8" cy="446.1" r="1.05"/><circle cx="516.5" cy="503.2" r="1.05"/><circle cx="527.5" cy="502.0" r="1.05"/><circle cx="530.7" cy="517.6" r="1.05"/><circle cx="546.5" cy="476.2" r="1.05"/><circle cx="545.2" cy="452.9" r="1.05"/><circle cx="535.5" cy="474.7" r="1.05"/><circle cx="510.9" cy="512.0" r="1.05"/><circle cx="551.6" cy="446.7" r="1.05"/><circle cx="520.2" cy="498.9" r="1.05"/><circle cx="507.6" cy="513.4" r="1.05"/><circle cx="541.3" cy="474.5" r="1.05"/><circle cx="511.5" cy="495.5" r="1.05"/><circle cx="531.8" cy="487.8" r="1.05"/><circle cx="520.8" cy="473.3" r="1.05"/><circle cx="508.4" cy="514.3" r="1.05"/><circle cx="529.7" cy="505.4" r="1.05"/><circle cx="550.4" cy="440.7" r="1.05"/><circle cx="505.1" cy="482.6" r="1.05"/><circle cx="507.4" cy="510.2" r="1.05"/><circle cx="503.0" cy="487.2" r="1.05"/><circle cx="490.7" cy="515.8" r="1.05"/><circle cx="555.8" cy="465.9" r="1.05"/><circle cx="544.9" cy="450.5" r="1.05"/><circle cx="533.2" cy="494.5" r="1.05"/><circle cx="541.7" cy="457.5" r="1.05"/><circle cx="548.2" cy="473.7" r="1.05"/><circle cx="538.0" cy="474.7" r="1.05"/><circle cx="538.1" cy="468.4" r="1.05"/><circle cx="526.7" cy="532.6" r="1.05"/><circle cx="519.1" cy="475.3" r="1.05"/><circle cx="522.2" cy="473.9" r="1.05"/><circle cx="549.8" cy="478.4" r="1.05"/><circle cx="528.3" cy="489.7" r="1.05"/><circle cx="523.6" cy="519.9" r="1.05"/><circle cx="520.5" cy="472.8" r="1.05"/><circle cx="548.5" cy="461.6" r="1.05"/><circle cx="560.4" cy="438.7" r="1.05"/><circle cx="535.5" cy="485.3" r="1.05"/><circle cx="526.6" cy="519.0" r="1.05"/><circle cx="522.7" cy="502.9" r="1.05"/><circle cx="526.1" cy="461.6" r="1.05"/><circle cx="518.9" cy="515.1" r="1.05"/><circle cx="535.8" cy="507.3" r="1.05"/><circle cx="498.6" cy="510.4" r="1.05"/><circle cx="523.7" cy="493.1" r="1.05"/><circle cx="479.8" cy="514.0" r="1.05"/><circle cx="490.5" cy="489.6" r="1.05"/><circle cx="550.6" cy="457.3" r="1.05"/><circle cx="530.0" cy="470.7" r="1.05"/><circle cx="528.9" cy="491.0" r="1.05"/><circle cx="534.5" cy="457.5" r="1.05"/><circle cx="520.7" cy="479.6" r="1.05"/><circle cx="524.1" cy="506.5" r="1.05"/><circle cx="522.4" cy="525.0" r="1.05"/><circle cx="528.8" cy="492.0" r="1.05"/><circle cx="524.9" cy="497.5" r="1.05"/><circle cx="550.5" cy="454.5" r="1.05"/><circle cx="508.0" cy="492.2" r="1.05"/><circle cx="524.4" cy="484.7" r="1.05"/><circle cx="525.1" cy="512.6" r="1.05"/><circle cx="523.6" cy="488.4" r="1.05"/><circle cx="558.2" cy="456.7" r="1.05"/><circle cx="546.5" cy="472.4" r="1.05"/><circle cx="517.9" cy="499.2" r="1.05"/><circle cx="540.1" cy="483.4" r="1.05"/><circle cx="540.6" cy="459.9" r="1.05"/><circle cx="529.0" cy="464.7" r="1.05"/><circle cx="526.4" cy="526.2" r="1.05"/><circle cx="481.3" cy="500.0" r="1.05"/><circle cx="548.9" cy="469.8" r="1.05"/><circle cx="545.9" cy="462.2" r="1.05"/><circle cx="528.2" cy="490.0" r="1.05"/><circle cx="531.8" cy="479.1" r="1.05"/><circle cx="560.9" cy="445.7" r="1.05"/><circle cx="550.4" cy="454.1" r="1.05"/><circle cx="538.5" cy="473.1" r="1.05"/><circle cx="533.0" cy="485.9" r="1.05"/><circle cx="528.5" cy="514.7" r="1.05"/><circle cx="535.9" cy="501.8" r="1.05"/><circle cx="526.3" cy="467.1" r="1.05"/><circle cx="556.0" cy="464.1" r="1.05"/><circle cx="550.5" cy="450.8" r="1.05"/><circle cx="522.1" cy="504.3" r="1.05"/><circle cx="520.5" cy="507.3" r="1.05"/><circle cx="551.7" cy="473.2" r="1.05"/><circle cx="537.1" cy="481.2" r="1.05"/><circle cx="525.2" cy="490.4" r="1.05"/><circle cx="479.6" cy="517.1" r="1.05"/><circle cx="525.6" cy="468.5" r="1.05"/><circle cx="533.5" cy="462.9" r="1.05"/><circle cx="558.0" cy="456.1" r="1.05"/><circle cx="557.7" cy="456.6" r="1.05"/><circle cx="532.7" cy="493.0" r="1.05"/><circle cx="552.6" cy="463.9" r="1.05"/><circle cx="526.0" cy="504.7" r="1.05"/><circle cx="531.1" cy="485.9" r="1.05"/><circle cx="476.7" cy="512.1" r="1.05"/><circle cx="553.6" cy="446.5" r="1.05"/><circle cx="511.3" cy="512.4" r="1.05"/><circle cx="535.4" cy="509.2" r="1.05"/><circle cx="553.1" cy="476.1" r="1.05"/><circle cx="558.7" cy="460.7" r="1.05"/><circle cx="556.3" cy="457.1" r="1.05"/><circle cx="533.5" cy="501.6" r="1.05"/><circle cx="552.6" cy="462.9" r="1.05"/><circle cx="529.9" cy="523.2" r="1.05"/><circle cx="530.3" cy="458.3" r="1.05"/><circle cx="548.2" cy="464.3" r="1.05"/><circle cx="481.1" cy="500.2" r="1.05"/><circle cx="543.5" cy="485.8" r="1.05"/><circle cx="526.1" cy="467.7" r="1.05"/><circle cx="530.4" cy="471.7" r="1.05"/><circle cx="520.8" cy="470.3" r="1.05"/><circle cx="528.0" cy="530.4" r="1.05"/><circle cx="548.5" cy="459.8" r="1.05"/><circle cx="536.8" cy="463.7" r="1.05"/><circle cx="546.7" cy="453.6" r="1.05"/><circle cx="486.8" cy="499.4" r="1.05"/><circle cx="531.6" cy="522.8" r="1.05"/><circle cx="536.6" cy="454.0" r="1.05"/><circle cx="542.1" cy="477.6" r="1.05"/><circle cx="529.5" cy="456.8" r="1.05"/><circle cx="522.4" cy="526.6" r="1.05"/><circle cx="515.8" cy="524.2" r="1.05"/><circle cx="536.2" cy="473.9" r="1.05"/><circle cx="526.2" cy="521.6" r="1.05"/><circle cx="478.9" cy="512.2" r="1.05"/><circle cx="553.2" cy="478.7" r="1.05"/><circle cx="522.5" cy="509.0" r="1.05"/><circle cx="531.8" cy="471.1" r="1.05"/><circle cx="530.5" cy="478.7" r="1.05"/><circle cx="545.8" cy="466.7" r="1.05"/><circle cx="519.5" cy="518.6" r="1.05"/><circle cx="522.7" cy="475.8" r="1.05"/><circle cx="522.2" cy="488.7" r="1.05"/><circle cx="536.0" cy="487.9" r="1.05"/><circle cx="556.3" cy="458.1" r="1.05"/><circle cx="511.5" cy="521.3" r="1.05"/><circle cx="517.2" cy="466.2" r="1.05"/><circle cx="535.4" cy="499.2" r="1.05"/><circle cx="552.5" cy="477.5" r="1.05"/><circle cx="546.3" cy="466.9" r="1.05"/><circle cx="525.3" cy="501.6" r="1.05"/><circle cx="544.5" cy="473.0" r="1.05"/><circle cx="519.5" cy="475.6" r="1.05"/><circle cx="523.6" cy="501.2" r="1.05"/><circle cx="521.2" cy="489.1" r="1.05"/><circle cx="540.2" cy="498.2" r="1.05"/><circle cx="549.7" cy="477.9" r="1.05"/><circle cx="507.8" cy="492.0" r="1.05"/><circle cx="532.6" cy="517.2" r="1.05"/><circle cx="545.2" cy="461.2" r="1.05"/><circle cx="541.8" cy="455.1" r="1.05"/><circle cx="539.7" cy="487.3" r="1.05"/><circle cx="537.8" cy="507.3" r="1.05"/><circle cx="558.9" cy="458.3" r="1.05"/><circle cx="551.9" cy="465.4" r="1.05"/><circle cx="513.5" cy="483.9" r="1.05"/><circle cx="529.2" cy="484.7" r="1.05"/><circle cx="533.7" cy="502.3" r="1.05"/><circle cx="526.1" cy="471.8" r="1.05"/><circle cx="534.8" cy="478.3" r="1.05"/><circle cx="521.3" cy="525.7" r="1.05"/><circle cx="551.0" cy="451.1" r="1.05"/><circle cx="473.4" cy="506.1" r="1.05"/><circle cx="557.2" cy="458.1" r="1.05"/><circle cx="524.7" cy="466.9" r="1.05"/><circle cx="506.9" cy="497.0" r="1.05"/><circle cx="524.4" cy="487.5" r="1.05"/><circle cx="549.6" cy="462.0" r="1.05"/><circle cx="529.4" cy="481.6" r="1.05"/><circle cx="534.4" cy="460.7" r="1.05"/><circle cx="542.7" cy="493.7" r="1.05"/><circle cx="535.2" cy="490.7" r="1.05"/><circle cx="520.0" cy="520.1" r="1.05"/><circle cx="524.9" cy="468.1" r="1.05"/><circle cx="539.5" cy="476.3" r="1.05"/><circle cx="545.1" cy="467.0" r="1.05"/><circle cx="518.4" cy="507.7" r="1.05"/><circle cx="509.6" cy="500.9" r="1.05"/><circle cx="539.3" cy="449.1" r="1.05"/><circle cx="535.3" cy="512.6" r="1.05"/><circle cx="537.7" cy="470.2" r="1.05"/><circle cx="490.3" cy="505.4" r="1.05"/><circle cx="544.6" cy="482.6" r="1.05"/><circle cx="523.7" cy="530.3" r="1.05"/><circle cx="539.1" cy="492.7" r="1.05"/><circle cx="532.5" cy="474.2" r="1.05"/><circle cx="549.1" cy="467.9" r="1.05"/><circle cx="527.5" cy="534.7" r="1.05"/><circle cx="525.5" cy="483.6" r="1.05"/><circle cx="532.6" cy="473.8" r="1.05"/><circle cx="511.9" cy="523.6" r="1.05"/><circle cx="522.2" cy="522.1" r="1.05"/><circle cx="556.5" cy="468.6" r="1.05"/><circle cx="511.7" cy="466.1" r="1.05"/><circle cx="521.5" cy="528.7" r="1.05"/><circle cx="556.5" cy="454.0" r="1.05"/><circle cx="531.1" cy="487.4" r="1.05"/><circle cx="526.0" cy="499.9" r="1.05"/><circle cx="535.0" cy="473.2" r="1.05"/><circle cx="527.0" cy="499.3" r="1.05"/><circle cx="498.3" cy="508.8" r="1.05"/><circle cx="507.0" cy="489.3" r="1.05"/><circle cx="533.2" cy="492.6" r="1.05"/><circle cx="535.2" cy="508.8" r="1.05"/><circle cx="537.2" cy="476.9" r="1.05"/><circle cx="514.5" cy="495.8" r="1.05"/><circle cx="532.2" cy="500.9" r="1.05"/><circle cx="560.4" cy="456.9" r="1.05"/><circle cx="528.9" cy="523.4" r="1.05"/><circle cx="546.2" cy="467.0" r="1.05"/><circle cx="547.5" cy="487.0" r="1.05"/><circle cx="550.0" cy="462.1" r="1.05"/><circle cx="530.8" cy="511.4" r="1.05"/><circle cx="535.1" cy="474.4" r="1.05"/><circle cx="552.6" cy="479.8" r="1.05"/><circle cx="537.5" cy="477.7" r="1.05"/><circle cx="561.8" cy="449.8" r="1.05"/><circle cx="545.3" cy="456.1" r="1.05"/><circle cx="541.6" cy="464.6" r="1.05"/><circle cx="546.7" cy="463.4" r="1.05"/><circle cx="526.7" cy="495.5" r="1.05"/><circle cx="527.1" cy="501.4" r="1.05"/><circle cx="521.4" cy="523.7" r="1.05"/><circle cx="541.3" cy="464.7" r="1.05"/><circle cx="524.9" cy="464.0" r="1.05"/><circle cx="523.4" cy="513.1" r="1.05"/><circle cx="544.2" cy="480.7" r="1.05"/><circle cx="481.4" cy="508.9" r="1.05"/><circle cx="534.0" cy="454.1" r="1.05"/><circle cx="534.5" cy="494.0" r="1.05"/><circle cx="546.7" cy="489.6" r="1.05"/><circle cx="524.6" cy="478.6" r="1.05"/><circle cx="523.2" cy="511.1" r="1.05"/><circle cx="519.5" cy="525.6" r="1.05"/><circle cx="523.3" cy="477.6" r="1.05"/><circle cx="542.8" cy="494.1" r="1.05"/><circle cx="535.8" cy="507.6" r="1.05"/><circle cx="530.4" cy="485.5" r="1.05"/><circle cx="524.9" cy="483.7" r="1.05"/><circle cx="526.9" cy="531.6" r="1.05"/><circle cx="543.4" cy="495.7" r="1.05"/><circle cx="533.7" cy="458.6" r="1.05"/><circle cx="515.4" cy="487.2" r="1.05"/><circle cx="495.9" cy="519.0" r="1.05"/><circle cx="539.4" cy="484.9" r="1.05"/><circle cx="518.7" cy="521.4" r="1.05"/><circle cx="545.2" cy="450.9" r="1.05"/><circle cx="531.2" cy="492.0" r="1.05"/><circle cx="556.4" cy="461.3" r="1.05"/><circle cx="523.9" cy="503.2" r="1.05"/><circle cx="552.4" cy="476.6" r="1.05"/><circle cx="528.8" cy="499.9" r="1.05"/><circle cx="542.7" cy="493.1" r="1.05"/><circle cx="539.1" cy="479.3" r="1.05"/><circle cx="517.3" cy="511.3" r="1.05"/><circle cx="515.8" cy="479.2" r="1.05"/><circle cx="537.4" cy="458.7" r="1.05"/><circle cx="517.2" cy="477.9" r="1.05"/><circle cx="503.4" cy="500.4" r="1.05"/><circle cx="555.1" cy="463.1" r="1.05"/><circle cx="511.7" cy="494.8" r="1.05"/><circle cx="551.1" cy="458.4" r="1.05"/><circle cx="527.8" cy="459.0" r="1.05"/><circle cx="542.1" cy="470.7" r="1.05"/><circle cx="532.9" cy="491.5" r="1.05"/><circle cx="524.2" cy="506.3" r="1.05"/><circle cx="521.0" cy="474.6" r="1.05"/><circle cx="551.7" cy="482.8" r="1.05"/><circle cx="495.6" cy="483.4" r="1.05"/><circle cx="481.4" cy="509.6" r="1.05"/><circle cx="543.6" cy="477.9" r="1.05"/><circle cx="526.7" cy="459.2" r="1.05"/><circle cx="511.2" cy="474.9" r="1.05"/><circle cx="507.0" cy="516.0" r="1.05"/><circle cx="518.4" cy="500.9" r="1.05"/><circle cx="545.9" cy="456.5" r="1.05"/><circle cx="557.6" cy="465.0" r="1.05"/><circle cx="510.8" cy="485.1" r="1.05"/><circle cx="521.1" cy="515.7" r="1.05"/><circle cx="538.3" cy="450.9" r="1.05"/><circle cx="527.5" cy="483.1" r="1.05"/><circle cx="521.4" cy="478.0" r="1.05"/><circle cx="518.2" cy="479.2" r="1.05"/><circle cx="538.2" cy="493.0" r="1.05"/><circle cx="511.5" cy="496.4" r="1.05"/><circle cx="521.3" cy="495.7" r="1.05"/><circle cx="522.7" cy="473.4" r="1.05"/><circle cx="550.5" cy="482.9" r="1.05"/><circle cx="527.2" cy="482.6" r="1.05"/><circle cx="508.6" cy="478.2" r="1.05"/><circle cx="539.5" cy="463.1" r="1.05"/><circle cx="535.2" cy="489.1" r="1.05"/><circle cx="534.9" cy="503.1" r="1.05"/><circle cx="511.9" cy="471.1" r="1.05"/><circle cx="523.0" cy="465.0" r="1.05"/><circle cx="549.9" cy="455.8" r="1.05"/><circle cx="520.1" cy="486.8" r="1.05"/><circle cx="510.5" cy="519.7" r="1.05"/><circle cx="525.5" cy="488.3" r="1.05"/><circle cx="511.0" cy="488.2" r="1.05"/><circle cx="539.6" cy="497.8" r="1.05"/><circle cx="531.6" cy="521.2" r="1.05"/><circle cx="547.9" cy="457.1" r="1.05"/><circle cx="525.6" cy="512.5" r="1.05"/><circle cx="529.3" cy="528.6" r="1.05"/><circle cx="523.3" cy="482.3" r="1.05"/><circle cx="533.6" cy="476.6" r="1.05"/><circle cx="527.3" cy="464.6" r="1.05"/><circle cx="514.3" cy="471.3" r="1.05"/><circle cx="545.3" cy="483.1" r="1.05"/><circle cx="554.1" cy="457.3" r="1.05"/><circle cx="523.3" cy="469.1" r="1.05"/><circle cx="529.4" cy="467.5" r="1.05"/><circle cx="529.5" cy="499.9" r="1.05"/><circle cx="527.8" cy="478.1" r="1.05"/><circle cx="528.0" cy="473.6" r="1.05"/><circle cx="519.9" cy="486.2" r="1.05"/><circle cx="520.9" cy="505.6" r="1.05"/><circle cx="531.4" cy="520.3" r="1.05"/><circle cx="533.7" cy="510.1" r="1.05"/><circle cx="543.7" cy="488.9" r="1.05"/><circle cx="530.0" cy="476.5" r="1.05"/><circle cx="546.3" cy="470.7" r="1.05"/><circle cx="542.3" cy="447.7" r="1.05"/><circle cx="509.8" cy="487.5" r="1.05"/><circle cx="526.6" cy="473.8" r="1.05"/><circle cx="548.8" cy="446.1" r="1.05"/></g><circle cx="576.8" cy="445.3" r="12.9" fill="none" stroke="#333" stroke-width="1"/><path d="M571 445.4 H583 M576.8 439.2 V451.6" stroke="#333" stroke-width="1.4"/><circle cx="577" cy="488.6" r="12.9" fill="none" stroke="#333" stroke-width="1"/><path d="M570.7 488.4 H584" stroke="#333" stroke-width="1.6"/><rect x="401.2" y="533" width="3.6" height="3.6" fill="#f25022"/><rect x="405.3" y="533" width="3.6" height="3.6" fill="#7fba00"/><rect x="401.2" y="537.1" width="3.6" height="3.6" fill="#00a4ef"/><rect x="405.3" y="537.1" width="3.6" height="3.6" fill="#ffb900"/><text x="411" y="539.5" font-size="6.3" fill="#666" style="letter-spacing:-0.1px">Microsoft Bing</text><text x="578" y="541.5" font-size="6.5" fill="#2050a0" text-decoration="underline">Terms</text><text transform="translate(507.2,418.4) scale(1,1.18)" text-anchor="middle" class="mt">Crime Info Map</text></svg>
<div id="kp" class="a"><div class="a" style="left:0;top:47px;left:-1.5px;width:340px;text-align:center;font-size:42.5px;letter-spacing:-3px;color:#f00;line-height:1">9M</div><div class="a" style="left:0;top:99px;width:340px;text-align:center;font-size:19.5px;letter-spacing:-0.25px;font-weight:bold;color:#111;line-height:1">Recorded Incidents</div></div>
</body></html>
